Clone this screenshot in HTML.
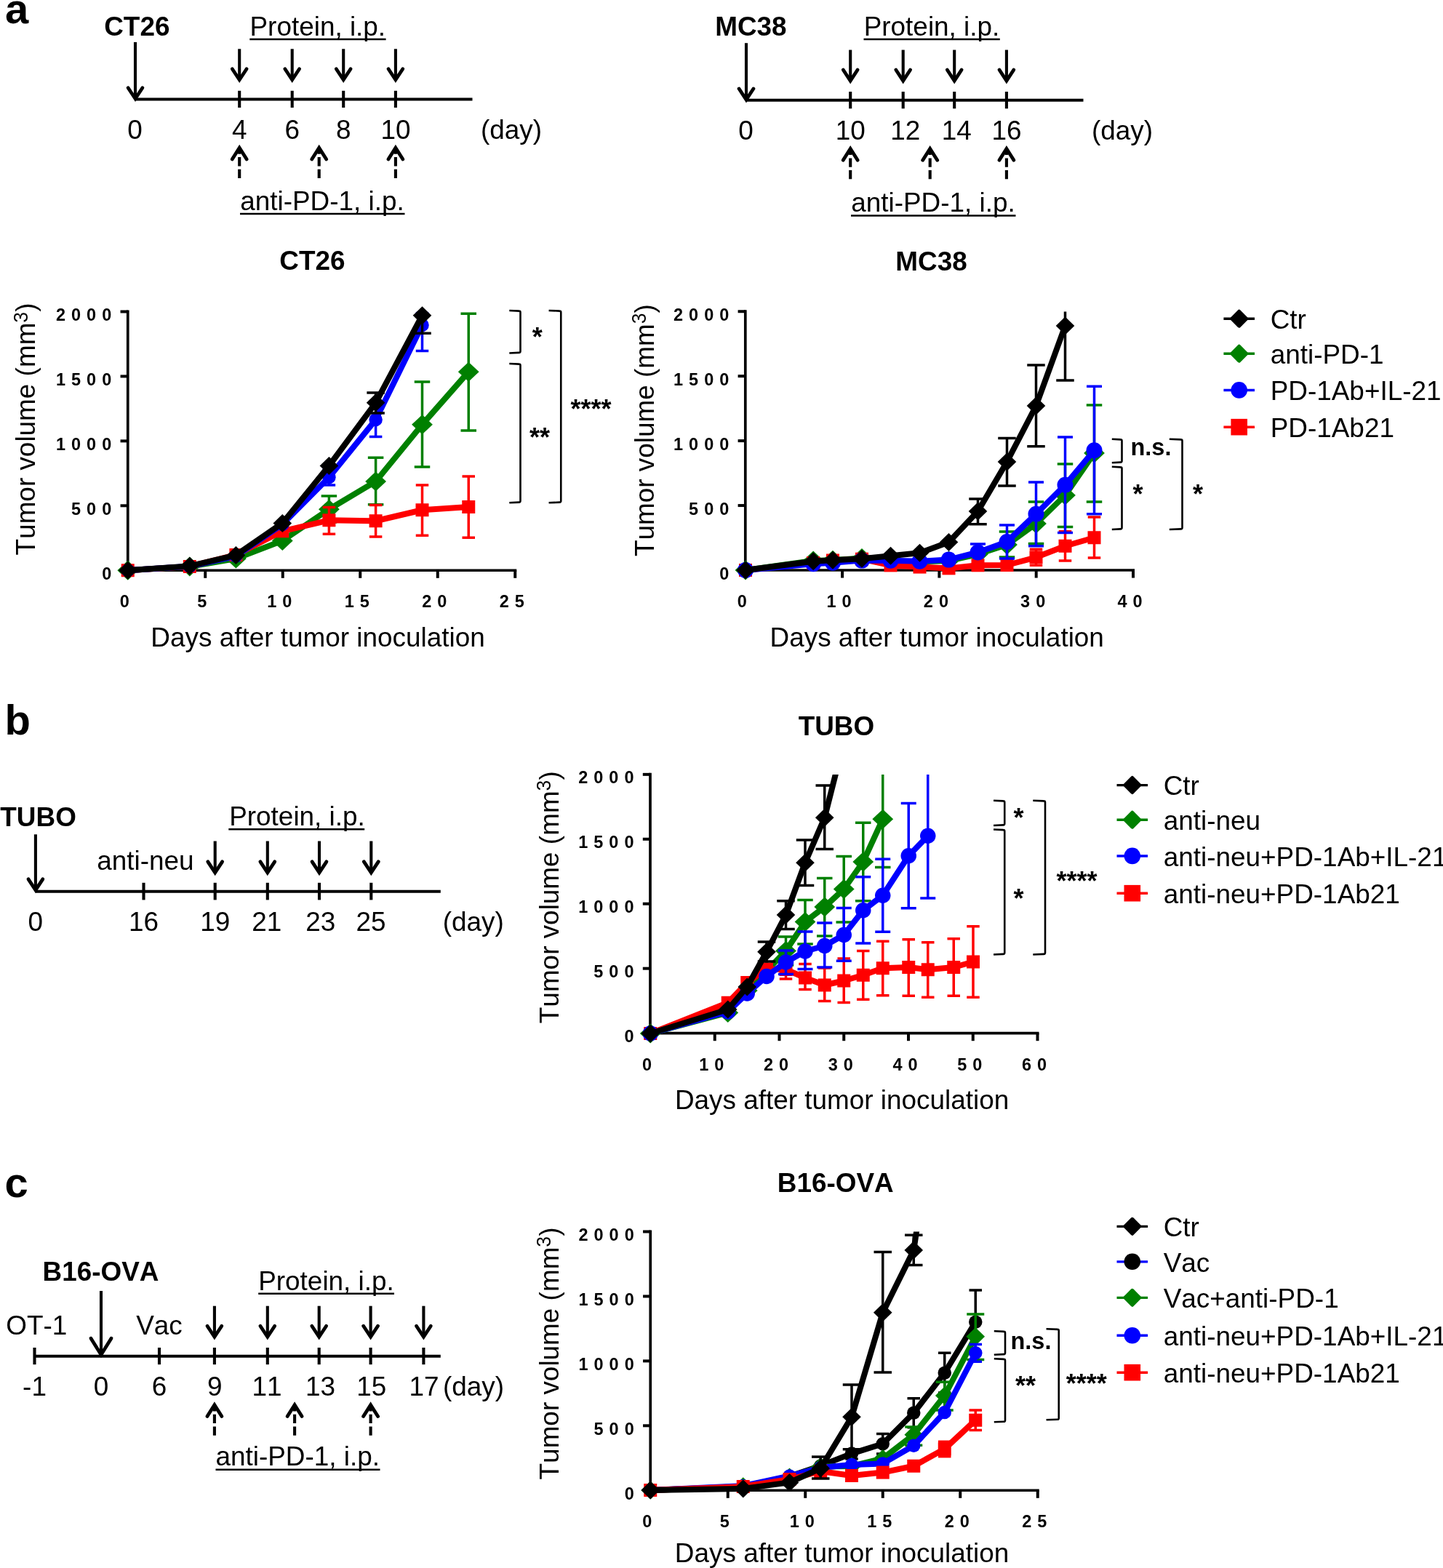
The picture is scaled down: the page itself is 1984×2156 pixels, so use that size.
<!DOCTYPE html>
<html lang="en">
<head>
<meta charset="utf-8">
<title>Figure: tumor growth curves</title>
<style>
html,body{margin:0;padding:0;background:#fff;}
body{width:1984px;height:2156px;overflow:hidden;}
svg{display:block;font-family:"Liberation Sans", sans-serif;fill:#000;font-kerning:none;}
svg text{white-space:pre;}
</style>
</head>
<body>
<svg width="1984" height="2156" viewBox="0 0 1984 2156">
<rect x="0" y="0" width="1984" height="2156" fill="#fff"/>
<defs>
<clipPath id="ca1"><rect x="150" y="428.5" width="640" height="400"/></clipPath>
<clipPath id="ca2"><rect x="1000" y="428.5" width="640" height="400"/></clipPath>
<clipPath id="cb"><rect x="870" y="1065" width="640" height="400"/></clipPath>
<clipPath id="cc"><rect x="870" y="1693.5" width="640" height="400"/></clipPath>
</defs>
<text transform="translate(7 31.5) scale(1 0.98)" font-size="58" font-weight="bold">a</text>
<text transform="translate(6.5 1009.8) scale(1 0.975)" font-size="58" font-weight="bold">b</text>
<text transform="translate(6.5 1646.2) scale(1 0.975)" font-size="58" font-weight="bold">c</text>
<text transform="translate(143.2 48.75) scale(1 1.02)" font-size="36.9" font-weight="bold">CT26</text>
<text transform="translate(343.5 48.75) scale(1 1.02)" font-size="36.9">Protein, i.p.</text>
<line x1="343.3" y1="54" x2="530.6" y2="54" stroke="#000" stroke-width="2.6"/>
<line x1="186" y1="57.9" x2="186" y2="135.74" stroke="#000" stroke-width="4.1"/>
<polyline points="176.1,120.74 186,135.74 195.9,120.74" fill="none" stroke="#000" stroke-width="4.8" stroke-linejoin="miter" stroke-linecap="round"/>
<line x1="186" y1="136.5" x2="649.5" y2="136.5" stroke="#000" stroke-width="4.1"/>
<line x1="329.2" y1="124.8" x2="329.2" y2="148" stroke="#000" stroke-width="4.1"/>
<line x1="329.2" y1="67.3" x2="329.2" y2="109.74" stroke="#000" stroke-width="4.1"/>
<polyline points="319.3,94.74 329.2,109.74 339.1,94.74" fill="none" stroke="#000" stroke-width="4.8" stroke-linejoin="miter" stroke-linecap="round"/>
<line x1="401.7" y1="124.8" x2="401.7" y2="148" stroke="#000" stroke-width="4.1"/>
<line x1="401.7" y1="67.3" x2="401.7" y2="109.74" stroke="#000" stroke-width="4.1"/>
<polyline points="391.8,94.74 401.7,109.74 411.6,94.74" fill="none" stroke="#000" stroke-width="4.8" stroke-linejoin="miter" stroke-linecap="round"/>
<line x1="472.2" y1="124.8" x2="472.2" y2="148" stroke="#000" stroke-width="4.1"/>
<line x1="472.2" y1="67.3" x2="472.2" y2="109.74" stroke="#000" stroke-width="4.1"/>
<polyline points="462.3,94.74 472.2,109.74 482.1,94.74" fill="none" stroke="#000" stroke-width="4.8" stroke-linejoin="miter" stroke-linecap="round"/>
<line x1="543.9" y1="124.8" x2="543.9" y2="148" stroke="#000" stroke-width="4.1"/>
<line x1="543.9" y1="67.3" x2="543.9" y2="109.74" stroke="#000" stroke-width="4.1"/>
<polyline points="534,94.74 543.9,109.74 553.8,94.74" fill="none" stroke="#000" stroke-width="4.8" stroke-linejoin="miter" stroke-linecap="round"/>
<text transform="translate(185.5 190.7) scale(1 1.02)" font-size="36.9" text-anchor="middle">0</text>
<text transform="translate(329.2 190.7) scale(1 1.02)" font-size="36.9" text-anchor="middle">4</text>
<text transform="translate(401.7 190.7) scale(1 1.02)" font-size="36.9" text-anchor="middle">6</text>
<text transform="translate(472.2 190.7) scale(1 1.02)" font-size="36.9" text-anchor="middle">8</text>
<text transform="translate(543.9 190.7) scale(1 1.02)" font-size="36.9" text-anchor="middle">10</text>
<text transform="translate(661 190.7) scale(1 1.02)" font-size="36.9">(day)</text>
<line x1="329.2" y1="245" x2="329.2" y2="203.19" stroke="#000" stroke-width="4.1" stroke-dasharray="12.3 4.3"/>
<polyline points="319.2,218.99 329.2,203.19 339.2,218.99" fill="none" stroke="#000" stroke-width="4.8" stroke-linejoin="miter" stroke-linecap="round"/>
<line x1="438.7" y1="245" x2="438.7" y2="203.19" stroke="#000" stroke-width="4.1" stroke-dasharray="12.3 4.3"/>
<polyline points="428.7,218.99 438.7,203.19 448.7,218.99" fill="none" stroke="#000" stroke-width="4.8" stroke-linejoin="miter" stroke-linecap="round"/>
<line x1="543.9" y1="245" x2="543.9" y2="203.19" stroke="#000" stroke-width="4.1" stroke-dasharray="12.3 4.3"/>
<polyline points="533.9,218.99 543.9,203.19 553.9,218.99" fill="none" stroke="#000" stroke-width="4.8" stroke-linejoin="miter" stroke-linecap="round"/>
<text transform="translate(330.2 288.7) scale(1 1.02)" font-size="36.9">anti-PD-1, i.p.</text>
<line x1="330" y1="294" x2="556.5" y2="294" stroke="#000" stroke-width="2.6"/>
<text transform="translate(983.2 48.75) scale(1 1.02)" font-size="36.9" font-weight="bold">MC38</text>
<text transform="translate(1187.7 48.75) scale(1 1.02)" font-size="36.9">Protein, i.p.</text>
<line x1="1187.5" y1="54" x2="1374.8" y2="54" stroke="#000" stroke-width="2.6"/>
<line x1="1026" y1="59.2" x2="1026" y2="137.04" stroke="#000" stroke-width="4.1"/>
<polyline points="1016.1,122.04 1026,137.04 1035.9,122.04" fill="none" stroke="#000" stroke-width="4.8" stroke-linejoin="miter" stroke-linecap="round"/>
<line x1="1026" y1="137.8" x2="1489.5" y2="137.8" stroke="#000" stroke-width="4.1"/>
<line x1="1169.2" y1="126.1" x2="1169.2" y2="149.3" stroke="#000" stroke-width="4.1"/>
<line x1="1169.2" y1="68.6" x2="1169.2" y2="111.04" stroke="#000" stroke-width="4.1"/>
<polyline points="1159.3,96.04 1169.2,111.04 1179.1,96.04" fill="none" stroke="#000" stroke-width="4.8" stroke-linejoin="miter" stroke-linecap="round"/>
<line x1="1241.7" y1="126.1" x2="1241.7" y2="149.3" stroke="#000" stroke-width="4.1"/>
<line x1="1241.7" y1="68.6" x2="1241.7" y2="111.04" stroke="#000" stroke-width="4.1"/>
<polyline points="1231.8,96.04 1241.7,111.04 1251.6,96.04" fill="none" stroke="#000" stroke-width="4.8" stroke-linejoin="miter" stroke-linecap="round"/>
<line x1="1312.2" y1="126.1" x2="1312.2" y2="149.3" stroke="#000" stroke-width="4.1"/>
<line x1="1312.2" y1="68.6" x2="1312.2" y2="111.04" stroke="#000" stroke-width="4.1"/>
<polyline points="1302.3,96.04 1312.2,111.04 1322.1,96.04" fill="none" stroke="#000" stroke-width="4.8" stroke-linejoin="miter" stroke-linecap="round"/>
<line x1="1383.9" y1="126.1" x2="1383.9" y2="149.3" stroke="#000" stroke-width="4.1"/>
<line x1="1383.9" y1="68.6" x2="1383.9" y2="111.04" stroke="#000" stroke-width="4.1"/>
<polyline points="1374,96.04 1383.9,111.04 1393.8,96.04" fill="none" stroke="#000" stroke-width="4.8" stroke-linejoin="miter" stroke-linecap="round"/>
<text transform="translate(1025.5 191.5) scale(1 1.02)" font-size="36.9" text-anchor="middle">0</text>
<text transform="translate(1169.2 191.5) scale(1 1.02)" font-size="36.9" text-anchor="middle">10</text>
<text transform="translate(1244.7 191.5) scale(1 1.02)" font-size="36.9" text-anchor="middle">12</text>
<text transform="translate(1315.2 191.5) scale(1 1.02)" font-size="36.9" text-anchor="middle">14</text>
<text transform="translate(1383.9 191.5) scale(1 1.02)" font-size="36.9" text-anchor="middle">16</text>
<text transform="translate(1501 191.5) scale(1 1.02)" font-size="36.9">(day)</text>
<line x1="1169.2" y1="246.3" x2="1169.2" y2="204.49" stroke="#000" stroke-width="4.1" stroke-dasharray="12.3 4.3"/>
<polyline points="1159.2,220.29 1169.2,204.49 1179.2,220.29" fill="none" stroke="#000" stroke-width="4.8" stroke-linejoin="miter" stroke-linecap="round"/>
<line x1="1278.7" y1="246.3" x2="1278.7" y2="204.49" stroke="#000" stroke-width="4.1" stroke-dasharray="12.3 4.3"/>
<polyline points="1268.7,220.29 1278.7,204.49 1288.7,220.29" fill="none" stroke="#000" stroke-width="4.8" stroke-linejoin="miter" stroke-linecap="round"/>
<line x1="1383.9" y1="246.3" x2="1383.9" y2="204.49" stroke="#000" stroke-width="4.1" stroke-dasharray="12.3 4.3"/>
<polyline points="1373.9,220.29 1383.9,204.49 1393.9,220.29" fill="none" stroke="#000" stroke-width="4.8" stroke-linejoin="miter" stroke-linecap="round"/>
<text transform="translate(1170.2 290.7) scale(1 1.02)" font-size="36.9">anti-PD-1, i.p.</text>
<line x1="1170" y1="296.5" x2="1396.5" y2="296.5" stroke="#000" stroke-width="2.6"/>
<text transform="translate(0.3 1136.2) scale(1 1.02)" font-size="36.9" font-weight="bold">TUBO</text>
<line x1="48.9" y1="1147.3" x2="48.9" y2="1223.84" stroke="#000" stroke-width="4.1"/>
<polyline points="39,1208.84 48.9,1223.84 58.8,1208.84" fill="none" stroke="#000" stroke-width="4.8" stroke-linejoin="miter" stroke-linecap="round"/>
<line x1="48.9" y1="1225.7" x2="605.8" y2="1225.7" stroke="#000" stroke-width="4.1"/>
<line x1="197.5" y1="1213.8" x2="197.5" y2="1237.4" stroke="#000" stroke-width="4.1"/>
<line x1="295.7" y1="1213.8" x2="295.7" y2="1237.4" stroke="#000" stroke-width="4.1"/>
<line x1="367.8" y1="1213.8" x2="367.8" y2="1237.4" stroke="#000" stroke-width="4.1"/>
<line x1="439" y1="1213.8" x2="439" y2="1237.4" stroke="#000" stroke-width="4.1"/>
<line x1="510.3" y1="1213.8" x2="510.3" y2="1237.4" stroke="#000" stroke-width="4.1"/>
<line x1="295.7" y1="1156.5" x2="295.7" y2="1199.84" stroke="#000" stroke-width="4.1"/>
<polyline points="285.8,1184.84 295.7,1199.84 305.6,1184.84" fill="none" stroke="#000" stroke-width="4.8" stroke-linejoin="miter" stroke-linecap="round"/>
<line x1="367.8" y1="1156.5" x2="367.8" y2="1199.84" stroke="#000" stroke-width="4.1"/>
<polyline points="357.9,1184.84 367.8,1199.84 377.7,1184.84" fill="none" stroke="#000" stroke-width="4.8" stroke-linejoin="miter" stroke-linecap="round"/>
<line x1="439" y1="1156.5" x2="439" y2="1199.84" stroke="#000" stroke-width="4.1"/>
<polyline points="429.1,1184.84 439,1199.84 448.9,1184.84" fill="none" stroke="#000" stroke-width="4.8" stroke-linejoin="miter" stroke-linecap="round"/>
<line x1="510.3" y1="1156.5" x2="510.3" y2="1199.84" stroke="#000" stroke-width="4.1"/>
<polyline points="500.4,1184.84 510.3,1199.84 520.2,1184.84" fill="none" stroke="#000" stroke-width="4.8" stroke-linejoin="miter" stroke-linecap="round"/>
<text transform="translate(133.2 1196.4) scale(1 1.02)" font-size="36.9">anti-neu</text>
<text transform="translate(315.2 1134.8) scale(1 1.02)" font-size="36.9">Protein, i.p.</text>
<line x1="314.3" y1="1140.2" x2="501.2" y2="1140.2" stroke="#000" stroke-width="2.6"/>
<text transform="translate(48.7 1280.2) scale(1 1.02)" font-size="36.9" text-anchor="middle">0</text>
<text transform="translate(197.5 1280.2) scale(1 1.02)" font-size="36.9" text-anchor="middle">16</text>
<text transform="translate(295.7 1280.2) scale(1 1.02)" font-size="36.9" text-anchor="middle">19</text>
<text transform="translate(366.8 1280.2) scale(1 1.02)" font-size="36.9" text-anchor="middle">21</text>
<text transform="translate(440.7 1280.2) scale(1 1.02)" font-size="36.9" text-anchor="middle">23</text>
<text transform="translate(510 1280.2) scale(1 1.02)" font-size="36.9" text-anchor="middle">25</text>
<text transform="translate(608.7 1280.2) scale(1 1.02)" font-size="36.9">(day)</text>
<text transform="translate(58.5 1760.8) scale(1 1.02)" font-size="36.9" font-weight="bold">B16-OVA</text>
<line x1="139" y1="1775" x2="139" y2="1862.66" stroke="#000" stroke-width="4.1"/>
<polyline points="125,1840.16 139,1862.66 153,1840.16" fill="none" stroke="#000" stroke-width="4.8" stroke-linejoin="miter" stroke-linecap="round"/>
<line x1="47.5" y1="1864.7" x2="605.8" y2="1864.7" stroke="#000" stroke-width="4.1"/>
<line x1="47.5" y1="1853" x2="47.5" y2="1876.2" stroke="#000" stroke-width="4.1"/>
<line x1="219" y1="1853" x2="219" y2="1876.2" stroke="#000" stroke-width="4.1"/>
<line x1="294.9" y1="1853" x2="294.9" y2="1876.2" stroke="#000" stroke-width="4.1"/>
<line x1="367.8" y1="1853" x2="367.8" y2="1876.2" stroke="#000" stroke-width="4.1"/>
<line x1="438.7" y1="1853" x2="438.7" y2="1876.2" stroke="#000" stroke-width="4.1"/>
<line x1="509.6" y1="1853" x2="509.6" y2="1876.2" stroke="#000" stroke-width="4.1"/>
<line x1="582.4" y1="1853" x2="582.4" y2="1876.2" stroke="#000" stroke-width="4.1"/>
<line x1="294.9" y1="1795.7" x2="294.9" y2="1838.24" stroke="#000" stroke-width="4.1"/>
<polyline points="285,1823.24 294.9,1838.24 304.8,1823.24" fill="none" stroke="#000" stroke-width="4.8" stroke-linejoin="miter" stroke-linecap="round"/>
<line x1="367.8" y1="1795.7" x2="367.8" y2="1838.24" stroke="#000" stroke-width="4.1"/>
<polyline points="357.9,1823.24 367.8,1838.24 377.7,1823.24" fill="none" stroke="#000" stroke-width="4.8" stroke-linejoin="miter" stroke-linecap="round"/>
<line x1="438.7" y1="1795.7" x2="438.7" y2="1838.24" stroke="#000" stroke-width="4.1"/>
<polyline points="428.8,1823.24 438.7,1838.24 448.6,1823.24" fill="none" stroke="#000" stroke-width="4.8" stroke-linejoin="miter" stroke-linecap="round"/>
<line x1="509.6" y1="1795.7" x2="509.6" y2="1838.24" stroke="#000" stroke-width="4.1"/>
<polyline points="499.7,1823.24 509.6,1838.24 519.5,1823.24" fill="none" stroke="#000" stroke-width="4.8" stroke-linejoin="miter" stroke-linecap="round"/>
<line x1="582.4" y1="1795.7" x2="582.4" y2="1838.24" stroke="#000" stroke-width="4.1"/>
<polyline points="572.5,1823.24 582.4,1838.24 592.3,1823.24" fill="none" stroke="#000" stroke-width="4.8" stroke-linejoin="miter" stroke-linecap="round"/>
<text transform="translate(8.2 1834.5) scale(1 1.02)" font-size="36.9">OT-1</text>
<text transform="translate(187.2 1834.5) scale(1 1.02)" font-size="36.9">Vac</text>
<text transform="translate(355.2 1773.9) scale(1 1.02)" font-size="36.9">Protein, i.p.</text>
<line x1="355.2" y1="1778.8" x2="542" y2="1778.8" stroke="#000" stroke-width="2.6"/>
<text transform="translate(47.5 1918.6) scale(1 1.02)" font-size="36.9" text-anchor="middle">-1</text>
<text transform="translate(139 1918.6) scale(1 1.02)" font-size="36.9" text-anchor="middle">0</text>
<text transform="translate(219 1918.6) scale(1 1.02)" font-size="36.9" text-anchor="middle">6</text>
<text transform="translate(295.2 1918.6) scale(1 1.02)" font-size="36.9" text-anchor="middle">9</text>
<text transform="translate(367 1918.6) scale(1 1.02)" font-size="36.9" text-anchor="middle">11</text>
<text transform="translate(440.5 1918.6) scale(1 1.02)" font-size="36.9" text-anchor="middle">13</text>
<text transform="translate(510.8 1918.6) scale(1 1.02)" font-size="36.9" text-anchor="middle">15</text>
<text transform="translate(582.9 1918.6) scale(1 1.02)" font-size="36.9" text-anchor="middle">17</text>
<text transform="translate(609 1918.6) scale(1 1.02)" font-size="36.9">(day)</text>
<line x1="294.9" y1="1973.7" x2="294.9" y2="1931.79" stroke="#000" stroke-width="4.1" stroke-dasharray="12.3 4.3"/>
<polyline points="284.9,1947.59 294.9,1931.79 304.9,1947.59" fill="none" stroke="#000" stroke-width="4.8" stroke-linejoin="miter" stroke-linecap="round"/>
<line x1="405.1" y1="1973.7" x2="405.1" y2="1931.79" stroke="#000" stroke-width="4.1" stroke-dasharray="12.3 4.3"/>
<polyline points="395.1,1947.59 405.1,1931.79 415.1,1947.59" fill="none" stroke="#000" stroke-width="4.8" stroke-linejoin="miter" stroke-linecap="round"/>
<line x1="509.6" y1="1973.7" x2="509.6" y2="1931.79" stroke="#000" stroke-width="4.1" stroke-dasharray="12.3 4.3"/>
<polyline points="499.6,1947.59 509.6,1931.79 519.6,1947.59" fill="none" stroke="#000" stroke-width="4.8" stroke-linejoin="miter" stroke-linecap="round"/>
<text transform="translate(296.4 2015) scale(1 1.02)" font-size="36.9">anti-PD-1, i.p.</text>
<line x1="296.5" y1="2020.7" x2="522.5" y2="2020.7" stroke="#000" stroke-width="2.6"/>
<line x1="175.75" y1="426.5" x2="175.75" y2="786.1" stroke="#000" stroke-width="3.7"/>
<line x1="173.9" y1="784.25" x2="710.25" y2="784.25" stroke="#000" stroke-width="3.7"/>
<line x1="165.55" y1="428.5" x2="175.75" y2="428.5" stroke="#000" stroke-width="4"/>
<line x1="165.55" y1="517.44" x2="175.75" y2="517.44" stroke="#000" stroke-width="4"/>
<line x1="165.55" y1="606.38" x2="175.75" y2="606.38" stroke="#000" stroke-width="4"/>
<line x1="165.55" y1="695.31" x2="175.75" y2="695.31" stroke="#000" stroke-width="4"/>
<line x1="165.55" y1="784.25" x2="175.75" y2="784.25" stroke="#000" stroke-width="4"/>
<line x1="175.75" y1="784.25" x2="175.75" y2="794.85" stroke="#000" stroke-width="4"/>
<line x1="282.25" y1="784.25" x2="282.25" y2="794.85" stroke="#000" stroke-width="4"/>
<line x1="388.75" y1="784.25" x2="388.75" y2="794.85" stroke="#000" stroke-width="4"/>
<line x1="495.25" y1="784.25" x2="495.25" y2="794.85" stroke="#000" stroke-width="4"/>
<line x1="601.75" y1="784.25" x2="601.75" y2="794.85" stroke="#000" stroke-width="4"/>
<line x1="708.25" y1="784.25" x2="708.25" y2="794.85" stroke="#000" stroke-width="4"/>
<text transform="translate(161.35 441.1) scale(1 1.03)" font-size="23.5" font-weight="bold" text-anchor="end" letter-spacing="8.05">2000</text>
<text transform="translate(161.35 530.04) scale(1 1.03)" font-size="23.5" font-weight="bold" text-anchor="end" letter-spacing="8.05">1500</text>
<text transform="translate(161.35 618.98) scale(1 1.03)" font-size="23.5" font-weight="bold" text-anchor="end" letter-spacing="8.05">1000</text>
<text transform="translate(161.35 707.91) scale(1 1.03)" font-size="23.5" font-weight="bold" text-anchor="end" letter-spacing="8.05">500</text>
<text transform="translate(161.35 796.85) scale(1 1.03)" font-size="23.5" font-weight="bold" text-anchor="end" letter-spacing="8.05">0</text>
<text transform="translate(175.25 835.45) scale(1 1.03)" font-size="23.5" font-weight="bold" text-anchor="middle" letter-spacing="8.05">0</text>
<text transform="translate(281.75 835.45) scale(1 1.03)" font-size="23.5" font-weight="bold" text-anchor="middle" letter-spacing="8.05">5</text>
<text transform="translate(388.25 835.45) scale(1 1.03)" font-size="23.5" font-weight="bold" text-anchor="middle" letter-spacing="8.05">10</text>
<text transform="translate(494.75 835.45) scale(1 1.03)" font-size="23.5" font-weight="bold" text-anchor="middle" letter-spacing="8.05">15</text>
<text transform="translate(601.25 835.45) scale(1 1.03)" font-size="23.5" font-weight="bold" text-anchor="middle" letter-spacing="8.05">20</text>
<text transform="translate(707.75 835.45) scale(1 1.03)" font-size="23.5" font-weight="bold" text-anchor="middle" letter-spacing="8.05">25</text>
<text transform="translate(429.4 371.4) scale(1 1.02)" font-size="36.9" font-weight="bold" text-anchor="middle">CT26</text>
<text transform="translate(437 889.4) scale(1 1.02)" font-size="36.9" text-anchor="middle">Days after tumor inoculation</text>
<text transform="translate(48.05 590) rotate(-90) scale(1 1.025)" font-size="36.9" text-anchor="middle">Tumor volume (mm<tspan font-size="26.57" dy="-10">3</tspan><tspan dy="10">)</tspan></text>
<g clip-path="url(#ca1)">
<line x1="452.4" y1="700.3" x2="452.4" y2="682" stroke="#008000" stroke-width="3.5"/>
<line x1="441.65" y1="682" x2="463.15" y2="682" stroke="#008000" stroke-width="3.5"/>
<line x1="452.4" y1="700.3" x2="452.4" y2="718" stroke="#008000" stroke-width="3.5"/>
<line x1="441.65" y1="718" x2="463.15" y2="718" stroke="#008000" stroke-width="3.5"/>
<line x1="516.6" y1="662" x2="516.6" y2="629.25" stroke="#008000" stroke-width="3.5"/>
<line x1="505.85" y1="629.25" x2="527.35" y2="629.25" stroke="#008000" stroke-width="3.5"/>
<line x1="516.6" y1="662" x2="516.6" y2="693.75" stroke="#008000" stroke-width="3.5"/>
<line x1="505.85" y1="693.75" x2="527.35" y2="693.75" stroke="#008000" stroke-width="3.5"/>
<line x1="580.5" y1="583.75" x2="580.5" y2="525" stroke="#008000" stroke-width="3.5"/>
<line x1="569.75" y1="525" x2="591.25" y2="525" stroke="#008000" stroke-width="3.5"/>
<line x1="580.5" y1="583.75" x2="580.5" y2="642" stroke="#008000" stroke-width="3.5"/>
<line x1="569.75" y1="642" x2="591.25" y2="642" stroke="#008000" stroke-width="3.5"/>
<line x1="644.25" y1="511.25" x2="644.25" y2="431.25" stroke="#008000" stroke-width="3.5"/>
<line x1="633.5" y1="431.25" x2="655" y2="431.25" stroke="#008000" stroke-width="3.5"/>
<line x1="644.25" y1="511.25" x2="644.25" y2="592" stroke="#008000" stroke-width="3.5"/>
<line x1="633.5" y1="592" x2="655" y2="592" stroke="#008000" stroke-width="3.5"/>
<polyline points="175.75,784.25 260.8,779 324.4,768 388.3,743.5 452.4,700.3 516.6,662 580.5,583.75 644.25,511.25" fill="none" stroke="#008000" stroke-width="8" stroke-linejoin="round"/>
</g>
<path d="M161.35 784.25L175.75 770.85L190.15 784.25L175.75 797.65Z" fill="#008000"/>
<path d="M246.4 779L260.8 765.6L275.2 779L260.8 792.4Z" fill="#008000"/>
<path d="M310 768L324.4 754.6L338.8 768L324.4 781.4Z" fill="#008000"/>
<path d="M373.9 743.5L388.3 730.1L402.7 743.5L388.3 756.9Z" fill="#008000"/>
<path d="M438 700.3L452.4 686.9L466.8 700.3L452.4 713.7Z" fill="#008000"/>
<path d="M502.2 662L516.6 648.6L531 662L516.6 675.4Z" fill="#008000"/>
<path d="M566.1 583.75L580.5 570.35L594.9 583.75L580.5 597.15Z" fill="#008000"/>
<path d="M629.85 511.25L644.25 497.85L658.65 511.25L644.25 524.65Z" fill="#008000"/>
<g clip-path="url(#ca1)">
<line x1="452.4" y1="715.3" x2="452.4" y2="697.5" stroke="#ff0000" stroke-width="3.5"/>
<line x1="443.65" y1="697.5" x2="461.15" y2="697.5" stroke="#ff0000" stroke-width="3.5"/>
<line x1="452.4" y1="715.3" x2="452.4" y2="734.3" stroke="#ff0000" stroke-width="3.5"/>
<line x1="443.65" y1="734.3" x2="461.15" y2="734.3" stroke="#ff0000" stroke-width="3.5"/>
<line x1="516.6" y1="716.25" x2="516.6" y2="694.5" stroke="#ff0000" stroke-width="3.5"/>
<line x1="507.85" y1="694.5" x2="525.35" y2="694.5" stroke="#ff0000" stroke-width="3.5"/>
<line x1="516.6" y1="716.25" x2="516.6" y2="738" stroke="#ff0000" stroke-width="3.5"/>
<line x1="507.85" y1="738" x2="525.35" y2="738" stroke="#ff0000" stroke-width="3.5"/>
<line x1="580.5" y1="701.25" x2="580.5" y2="667" stroke="#ff0000" stroke-width="3.5"/>
<line x1="571.75" y1="667" x2="589.25" y2="667" stroke="#ff0000" stroke-width="3.5"/>
<line x1="580.5" y1="701.25" x2="580.5" y2="736.25" stroke="#ff0000" stroke-width="3.5"/>
<line x1="571.75" y1="736.25" x2="589.25" y2="736.25" stroke="#ff0000" stroke-width="3.5"/>
<line x1="644.25" y1="697" x2="644.25" y2="655" stroke="#ff0000" stroke-width="3.5"/>
<line x1="635.5" y1="655" x2="653" y2="655" stroke="#ff0000" stroke-width="3.5"/>
<line x1="644.25" y1="697" x2="644.25" y2="739.25" stroke="#ff0000" stroke-width="3.5"/>
<line x1="635.5" y1="739.25" x2="653" y2="739.25" stroke="#ff0000" stroke-width="3.5"/>
<polyline points="175.75,784.25 260.8,779 324.4,763 388.3,730.3 452.4,715.3 516.6,716.25 580.5,701.25 644.25,697" fill="none" stroke="#ff0000" stroke-width="8" stroke-linejoin="round"/>
</g>
<rect x="166.75" y="775.25" width="18" height="18" fill="#ff0000"/>
<rect x="251.8" y="770" width="18" height="18" fill="#ff0000"/>
<rect x="315.4" y="754" width="18" height="18" fill="#ff0000"/>
<rect x="379.3" y="721.3" width="18" height="18" fill="#ff0000"/>
<rect x="443.4" y="706.3" width="18" height="18" fill="#ff0000"/>
<rect x="507.6" y="707.25" width="18" height="18" fill="#ff0000"/>
<rect x="571.5" y="692.25" width="18" height="18" fill="#ff0000"/>
<rect x="635.25" y="688" width="18" height="18" fill="#ff0000"/>
<g clip-path="url(#ca1)">
<line x1="452.4" y1="656.3" x2="452.4" y2="645" stroke="#0000ff" stroke-width="3.5"/>
<line x1="443.65" y1="645" x2="461.15" y2="645" stroke="#0000ff" stroke-width="3.5"/>
<line x1="452.4" y1="656.3" x2="452.4" y2="667" stroke="#0000ff" stroke-width="3.5"/>
<line x1="443.65" y1="667" x2="461.15" y2="667" stroke="#0000ff" stroke-width="3.5"/>
<line x1="516.6" y1="577" x2="516.6" y2="552" stroke="#0000ff" stroke-width="3.5"/>
<line x1="507.85" y1="552" x2="525.35" y2="552" stroke="#0000ff" stroke-width="3.5"/>
<line x1="516.6" y1="577" x2="516.6" y2="600.5" stroke="#0000ff" stroke-width="3.5"/>
<line x1="507.85" y1="600.5" x2="525.35" y2="600.5" stroke="#0000ff" stroke-width="3.5"/>
<line x1="580.5" y1="447" x2="580.5" y2="430.5" stroke="#0000ff" stroke-width="3.5"/>
<line x1="571.75" y1="430.5" x2="589.25" y2="430.5" stroke="#0000ff" stroke-width="3.5"/>
<line x1="580.5" y1="447" x2="580.5" y2="482.5" stroke="#0000ff" stroke-width="3.5"/>
<line x1="571.75" y1="482.5" x2="589.25" y2="482.5" stroke="#0000ff" stroke-width="3.5"/>
<polyline points="175.75,784.25 260.8,778.8 324.4,764.5 388.3,721 452.4,656.3 516.6,577 580.5,447" fill="none" stroke="#0000ff" stroke-width="8" stroke-linejoin="round"/>
</g>
<circle cx="175.75" cy="784.25" r="9.25" fill="#0000ff"/>
<circle cx="260.8" cy="778.8" r="9.25" fill="#0000ff"/>
<circle cx="324.4" cy="764.5" r="9.25" fill="#0000ff"/>
<circle cx="388.3" cy="721" r="9.25" fill="#0000ff"/>
<circle cx="452.4" cy="656.3" r="9.25" fill="#0000ff"/>
<circle cx="516.6" cy="577" r="9.25" fill="#0000ff"/>
<circle cx="580.5" cy="447" r="9.25" fill="#0000ff"/>
<g clip-path="url(#ca1)">
<line x1="516.6" y1="553.75" x2="516.6" y2="540" stroke="#000" stroke-width="3.5"/>
<line x1="504.35" y1="540" x2="528.85" y2="540" stroke="#000" stroke-width="3.5"/>
<line x1="516.6" y1="553.75" x2="516.6" y2="568" stroke="#000" stroke-width="3.5"/>
<line x1="504.35" y1="568" x2="528.85" y2="568" stroke="#000" stroke-width="3.5"/>
<line x1="580.5" y1="433.75" x2="580.5" y2="409.5" stroke="#000" stroke-width="3.5"/>
<line x1="568.25" y1="409.5" x2="592.75" y2="409.5" stroke="#000" stroke-width="3.5"/>
<line x1="580.5" y1="433.75" x2="580.5" y2="458.25" stroke="#000" stroke-width="3.5"/>
<line x1="568.25" y1="458.25" x2="592.75" y2="458.25" stroke="#000" stroke-width="3.5"/>
<polyline points="175.75,784.25 260.8,778.3 324.4,763.4 388.3,719.4 452.4,640.5 516.6,553.75 580.5,433.75" fill="none" stroke="#000" stroke-width="8" stroke-linejoin="round"/>
</g>
<path d="M162.95 784.25L175.75 771.75L188.55 784.25L175.75 796.75Z" fill="#000"/>
<path d="M248 778.3L260.8 765.8L273.6 778.3L260.8 790.8Z" fill="#000"/>
<path d="M311.6 763.4L324.4 750.9L337.2 763.4L324.4 775.9Z" fill="#000"/>
<path d="M375.5 719.4L388.3 706.9L401.1 719.4L388.3 731.9Z" fill="#000"/>
<path d="M439.6 640.5L452.4 628L465.2 640.5L452.4 653Z" fill="#000"/>
<path d="M503.8 553.75L516.6 541.25L529.4 553.75L516.6 566.25Z" fill="#000"/>
<path d="M567.7 433.75L580.5 421.25L593.3 433.75L580.5 446.25Z" fill="#000"/>
<path d="M700.3 427L713.7 427.6Q715.5 427.6 715.5 429.4L715.5 483.1Q715.5 484.9 713.7 484.9L700.3 485.5" fill="none" stroke="#000" stroke-width="2.6"/>
<path d="M700.3 500L713.7 500.6Q715.5 500.6 715.5 502.4L715.5 688.85Q715.5 690.65 713.7 690.65L700.3 691.25" fill="none" stroke="#000" stroke-width="2.6"/>
<path d="M754.55 427L769.45 427.6Q771.25 427.6 771.25 429.4L771.25 688.85Q771.25 690.65 769.45 690.65L754.55 691.25" fill="none" stroke="#000" stroke-width="2.6"/>
<text transform="translate(738.75 476) scale(1 1.02)" font-size="36" font-weight="bold" text-anchor="middle">*</text>
<text transform="translate(742 614.4) scale(1 1.02)" font-size="36" font-weight="bold" text-anchor="middle">**</text>
<text transform="translate(812.5 574.5) scale(1 1.02)" font-size="36" font-weight="bold" text-anchor="middle">****</text>
<line x1="1024.8" y1="426.25" x2="1024.8" y2="785.85" stroke="#000" stroke-width="3.7"/>
<line x1="1022.95" y1="784" x2="1560" y2="784" stroke="#000" stroke-width="3.7"/>
<line x1="1014.6" y1="428.25" x2="1024.8" y2="428.25" stroke="#000" stroke-width="4"/>
<line x1="1014.6" y1="517.19" x2="1024.8" y2="517.19" stroke="#000" stroke-width="4"/>
<line x1="1014.6" y1="606.12" x2="1024.8" y2="606.12" stroke="#000" stroke-width="4"/>
<line x1="1014.6" y1="695.06" x2="1024.8" y2="695.06" stroke="#000" stroke-width="4"/>
<line x1="1014.6" y1="784" x2="1024.8" y2="784" stroke="#000" stroke-width="4"/>
<line x1="1024.8" y1="784" x2="1024.8" y2="794.6" stroke="#000" stroke-width="4"/>
<line x1="1158.1" y1="784" x2="1158.1" y2="794.6" stroke="#000" stroke-width="4"/>
<line x1="1291.4" y1="784" x2="1291.4" y2="794.6" stroke="#000" stroke-width="4"/>
<line x1="1424.7" y1="784" x2="1424.7" y2="794.6" stroke="#000" stroke-width="4"/>
<line x1="1558" y1="784" x2="1558" y2="794.6" stroke="#000" stroke-width="4"/>
<text transform="translate(1010.4 440.85) scale(1 1.03)" font-size="23.5" font-weight="bold" text-anchor="end" letter-spacing="8.05">2000</text>
<text transform="translate(1010.4 529.79) scale(1 1.03)" font-size="23.5" font-weight="bold" text-anchor="end" letter-spacing="8.05">1500</text>
<text transform="translate(1010.4 618.73) scale(1 1.03)" font-size="23.5" font-weight="bold" text-anchor="end" letter-spacing="8.05">1000</text>
<text transform="translate(1010.4 707.66) scale(1 1.03)" font-size="23.5" font-weight="bold" text-anchor="end" letter-spacing="8.05">500</text>
<text transform="translate(1010.4 796.6) scale(1 1.03)" font-size="23.5" font-weight="bold" text-anchor="end" letter-spacing="8.05">0</text>
<text transform="translate(1024.3 835.2) scale(1 1.03)" font-size="23.5" font-weight="bold" text-anchor="middle" letter-spacing="8.05">0</text>
<text transform="translate(1157.6 835.2) scale(1 1.03)" font-size="23.5" font-weight="bold" text-anchor="middle" letter-spacing="8.05">10</text>
<text transform="translate(1290.9 835.2) scale(1 1.03)" font-size="23.5" font-weight="bold" text-anchor="middle" letter-spacing="8.05">20</text>
<text transform="translate(1424.2 835.2) scale(1 1.03)" font-size="23.5" font-weight="bold" text-anchor="middle" letter-spacing="8.05">30</text>
<text transform="translate(1557.5 835.2) scale(1 1.03)" font-size="23.5" font-weight="bold" text-anchor="middle" letter-spacing="8.05">40</text>
<text transform="translate(1280.5 371.6) scale(1 1.02)" font-size="36.9" font-weight="bold" text-anchor="middle">MC38</text>
<text transform="translate(1288.2 889.4) scale(1 1.02)" font-size="36.9" text-anchor="middle">Days after tumor inoculation</text>
<text transform="translate(898.55 591.6) rotate(-90) scale(1 1.025)" font-size="36.9" text-anchor="middle">Tumor volume (mm<tspan font-size="26.57" dy="-10">3</tspan><tspan dy="10">)</tspan></text>
<g clip-path="url(#ca2)">
<line x1="1384.5" y1="749" x2="1384.5" y2="731" stroke="#008000" stroke-width="3.5"/>
<line x1="1373.75" y1="731" x2="1395.25" y2="731" stroke="#008000" stroke-width="3.5"/>
<line x1="1384.5" y1="749" x2="1384.5" y2="766" stroke="#008000" stroke-width="3.5"/>
<line x1="1373.75" y1="766" x2="1395.25" y2="766" stroke="#008000" stroke-width="3.5"/>
<line x1="1424.5" y1="720" x2="1424.5" y2="690" stroke="#008000" stroke-width="3.5"/>
<line x1="1413.75" y1="690" x2="1435.25" y2="690" stroke="#008000" stroke-width="3.5"/>
<line x1="1424.5" y1="720" x2="1424.5" y2="747.5" stroke="#008000" stroke-width="3.5"/>
<line x1="1413.75" y1="747.5" x2="1435.25" y2="747.5" stroke="#008000" stroke-width="3.5"/>
<line x1="1464.5" y1="681" x2="1464.5" y2="638" stroke="#008000" stroke-width="3.5"/>
<line x1="1453.75" y1="638" x2="1475.25" y2="638" stroke="#008000" stroke-width="3.5"/>
<line x1="1464.5" y1="681" x2="1464.5" y2="724.5" stroke="#008000" stroke-width="3.5"/>
<line x1="1453.75" y1="724.5" x2="1475.25" y2="724.5" stroke="#008000" stroke-width="3.5"/>
<line x1="1504.5" y1="623" x2="1504.5" y2="557" stroke="#008000" stroke-width="3.5"/>
<line x1="1493.75" y1="557" x2="1515.25" y2="557" stroke="#008000" stroke-width="3.5"/>
<line x1="1504.5" y1="623" x2="1504.5" y2="690" stroke="#008000" stroke-width="3.5"/>
<line x1="1493.75" y1="690" x2="1515.25" y2="690" stroke="#008000" stroke-width="3.5"/>
<polyline points="1025,784 1118.2,771 1145,770.2 1185,767.5 1224.5,772 1264.5,772.5 1304.5,771 1344.5,762 1384.5,749 1424.5,720 1464.5,681 1504.5,623" fill="none" stroke="#008000" stroke-width="8" stroke-linejoin="round"/>
</g>
<path d="M1010.6 784L1025 770.6L1039.4 784L1025 797.4Z" fill="#008000"/>
<path d="M1103.8 771L1118.2 757.6L1132.6 771L1118.2 784.4Z" fill="#008000"/>
<path d="M1130.6 770.2L1145 756.8L1159.4 770.2L1145 783.6Z" fill="#008000"/>
<path d="M1170.6 767.5L1185 754.1L1199.4 767.5L1185 780.9Z" fill="#008000"/>
<path d="M1210.1 772L1224.5 758.6L1238.9 772L1224.5 785.4Z" fill="#008000"/>
<path d="M1250.1 772.5L1264.5 759.1L1278.9 772.5L1264.5 785.9Z" fill="#008000"/>
<path d="M1290.1 771L1304.5 757.6L1318.9 771L1304.5 784.4Z" fill="#008000"/>
<path d="M1330.1 762L1344.5 748.6L1358.9 762L1344.5 775.4Z" fill="#008000"/>
<path d="M1370.1 749L1384.5 735.6L1398.9 749L1384.5 762.4Z" fill="#008000"/>
<path d="M1410.1 720L1424.5 706.6L1438.9 720L1424.5 733.4Z" fill="#008000"/>
<path d="M1450.1 681L1464.5 667.6L1478.9 681L1464.5 694.4Z" fill="#008000"/>
<path d="M1490.1 623L1504.5 609.6L1518.9 623L1504.5 636.4Z" fill="#008000"/>
<g clip-path="url(#ca2)">
<line x1="1424.5" y1="766.3" x2="1424.5" y2="755.25" stroke="#ff0000" stroke-width="3.5"/>
<line x1="1415.75" y1="755.25" x2="1433.25" y2="755.25" stroke="#ff0000" stroke-width="3.5"/>
<line x1="1424.5" y1="766.3" x2="1424.5" y2="777.3" stroke="#ff0000" stroke-width="3.5"/>
<line x1="1415.75" y1="777.3" x2="1433.25" y2="777.3" stroke="#ff0000" stroke-width="3.5"/>
<line x1="1464.5" y1="750.75" x2="1464.5" y2="730.75" stroke="#ff0000" stroke-width="3.5"/>
<line x1="1455.75" y1="730.75" x2="1473.25" y2="730.75" stroke="#ff0000" stroke-width="3.5"/>
<line x1="1464.5" y1="750.75" x2="1464.5" y2="771" stroke="#ff0000" stroke-width="3.5"/>
<line x1="1455.75" y1="771" x2="1473.25" y2="771" stroke="#ff0000" stroke-width="3.5"/>
<line x1="1504.5" y1="739.25" x2="1504.5" y2="711" stroke="#ff0000" stroke-width="3.5"/>
<line x1="1495.75" y1="711" x2="1513.25" y2="711" stroke="#ff0000" stroke-width="3.5"/>
<line x1="1504.5" y1="739.25" x2="1504.5" y2="767" stroke="#ff0000" stroke-width="3.5"/>
<line x1="1495.75" y1="767" x2="1513.25" y2="767" stroke="#ff0000" stroke-width="3.5"/>
<polyline points="1025,784 1118.2,774 1145,770.5 1185,768.7 1224.5,777.4 1264.5,779.6 1304.5,781.4 1344.5,777.3 1384.5,777 1424.5,766.3 1464.5,750.75 1504.5,739.25" fill="none" stroke="#ff0000" stroke-width="8" stroke-linejoin="round"/>
</g>
<rect x="1016" y="775" width="18" height="18" fill="#ff0000"/>
<rect x="1109.2" y="765" width="18" height="18" fill="#ff0000"/>
<rect x="1136" y="761.5" width="18" height="18" fill="#ff0000"/>
<rect x="1176" y="759.7" width="18" height="18" fill="#ff0000"/>
<rect x="1215.5" y="768.4" width="18" height="18" fill="#ff0000"/>
<rect x="1255.5" y="770.6" width="18" height="18" fill="#ff0000"/>
<rect x="1295.5" y="772.4" width="18" height="18" fill="#ff0000"/>
<rect x="1335.5" y="768.3" width="18" height="18" fill="#ff0000"/>
<rect x="1375.5" y="768" width="18" height="18" fill="#ff0000"/>
<rect x="1415.5" y="757.3" width="18" height="18" fill="#ff0000"/>
<rect x="1455.5" y="741.75" width="18" height="18" fill="#ff0000"/>
<rect x="1495.5" y="730.25" width="18" height="18" fill="#ff0000"/>
<g clip-path="url(#ca2)">
<line x1="1344.5" y1="759.5" x2="1344.5" y2="748" stroke="#0000ff" stroke-width="3.5"/>
<line x1="1334" y1="748" x2="1355" y2="748" stroke="#0000ff" stroke-width="3.5"/>
<line x1="1384.5" y1="745" x2="1384.5" y2="722" stroke="#0000ff" stroke-width="3.5"/>
<line x1="1374" y1="722" x2="1395" y2="722" stroke="#0000ff" stroke-width="3.5"/>
<line x1="1384.5" y1="745" x2="1384.5" y2="768" stroke="#0000ff" stroke-width="3.5"/>
<line x1="1374" y1="768" x2="1395" y2="768" stroke="#0000ff" stroke-width="3.5"/>
<line x1="1424.5" y1="706.75" x2="1424.5" y2="663" stroke="#0000ff" stroke-width="3.5"/>
<line x1="1414" y1="663" x2="1435" y2="663" stroke="#0000ff" stroke-width="3.5"/>
<line x1="1424.5" y1="706.75" x2="1424.5" y2="750.75" stroke="#0000ff" stroke-width="3.5"/>
<line x1="1414" y1="750.75" x2="1435" y2="750.75" stroke="#0000ff" stroke-width="3.5"/>
<line x1="1464.5" y1="666.75" x2="1464.5" y2="601" stroke="#0000ff" stroke-width="3.5"/>
<line x1="1454" y1="601" x2="1475" y2="601" stroke="#0000ff" stroke-width="3.5"/>
<line x1="1464.5" y1="666.75" x2="1464.5" y2="732.5" stroke="#0000ff" stroke-width="3.5"/>
<line x1="1454" y1="732.5" x2="1475" y2="732.5" stroke="#0000ff" stroke-width="3.5"/>
<line x1="1504.5" y1="619.25" x2="1504.5" y2="531.25" stroke="#0000ff" stroke-width="3.5"/>
<line x1="1494" y1="531.25" x2="1515" y2="531.25" stroke="#0000ff" stroke-width="3.5"/>
<line x1="1504.5" y1="619.25" x2="1504.5" y2="706.75" stroke="#0000ff" stroke-width="3.5"/>
<line x1="1494" y1="706.75" x2="1515" y2="706.75" stroke="#0000ff" stroke-width="3.5"/>
<polyline points="1025,784 1118.2,775.2 1145,773.8 1185,770.6 1224.5,770.8 1264.5,771.7 1304.5,769.6 1344.5,759.5 1384.5,745 1424.5,706.75 1464.5,666.75 1504.5,619.25" fill="none" stroke="#0000ff" stroke-width="8" stroke-linejoin="round"/>
</g>
<circle cx="1025" cy="784" r="11" fill="#0000ff"/>
<circle cx="1118.2" cy="775.2" r="11" fill="#0000ff"/>
<circle cx="1145" cy="773.8" r="11" fill="#0000ff"/>
<circle cx="1185" cy="770.6" r="11" fill="#0000ff"/>
<circle cx="1224.5" cy="770.8" r="11" fill="#0000ff"/>
<circle cx="1264.5" cy="771.7" r="11" fill="#0000ff"/>
<circle cx="1304.5" cy="769.6" r="11" fill="#0000ff"/>
<circle cx="1344.5" cy="759.5" r="11" fill="#0000ff"/>
<circle cx="1384.5" cy="745" r="11" fill="#0000ff"/>
<circle cx="1424.5" cy="706.75" r="11" fill="#0000ff"/>
<circle cx="1464.5" cy="666.75" r="11" fill="#0000ff"/>
<circle cx="1504.5" cy="619.25" r="11" fill="#0000ff"/>
<g clip-path="url(#ca2)">
<line x1="1344.5" y1="703" x2="1344.5" y2="686" stroke="#000" stroke-width="3.5"/>
<line x1="1332.25" y1="686" x2="1356.75" y2="686" stroke="#000" stroke-width="3.5"/>
<line x1="1344.5" y1="703" x2="1344.5" y2="720.75" stroke="#000" stroke-width="3.5"/>
<line x1="1332.25" y1="720.75" x2="1356.75" y2="720.75" stroke="#000" stroke-width="3.5"/>
<line x1="1384.5" y1="635" x2="1384.5" y2="602.5" stroke="#000" stroke-width="3.5"/>
<line x1="1372.25" y1="602.5" x2="1396.75" y2="602.5" stroke="#000" stroke-width="3.5"/>
<line x1="1384.5" y1="635" x2="1384.5" y2="668" stroke="#000" stroke-width="3.5"/>
<line x1="1372.25" y1="668" x2="1396.75" y2="668" stroke="#000" stroke-width="3.5"/>
<line x1="1424.5" y1="558" x2="1424.5" y2="502" stroke="#000" stroke-width="3.5"/>
<line x1="1412.25" y1="502" x2="1436.75" y2="502" stroke="#000" stroke-width="3.5"/>
<line x1="1424.5" y1="558" x2="1424.5" y2="613.75" stroke="#000" stroke-width="3.5"/>
<line x1="1412.25" y1="613.75" x2="1436.75" y2="613.75" stroke="#000" stroke-width="3.5"/>
<line x1="1464.5" y1="448" x2="1464.5" y2="373" stroke="#000" stroke-width="3.5"/>
<line x1="1452.25" y1="373" x2="1476.75" y2="373" stroke="#000" stroke-width="3.5"/>
<line x1="1464.5" y1="448" x2="1464.5" y2="523" stroke="#000" stroke-width="3.5"/>
<line x1="1452.25" y1="523" x2="1476.75" y2="523" stroke="#000" stroke-width="3.5"/>
<polyline points="1025,784 1118.2,771.7 1145,770.2 1185,768.3 1224.5,764.2 1264.5,760.2 1304.5,745.4 1344.5,703 1384.5,635 1424.5,558 1464.5,448" fill="none" stroke="#000" stroke-width="8" stroke-linejoin="round"/>
</g>
<path d="M1012.2 784L1025 771.5L1037.8 784L1025 796.5Z" fill="#000"/>
<path d="M1105.4 771.7L1118.2 759.2L1131 771.7L1118.2 784.2Z" fill="#000"/>
<path d="M1132.2 770.2L1145 757.7L1157.8 770.2L1145 782.7Z" fill="#000"/>
<path d="M1172.2 768.3L1185 755.8L1197.8 768.3L1185 780.8Z" fill="#000"/>
<path d="M1211.7 764.2L1224.5 751.7L1237.3 764.2L1224.5 776.7Z" fill="#000"/>
<path d="M1251.7 760.2L1264.5 747.7L1277.3 760.2L1264.5 772.7Z" fill="#000"/>
<path d="M1291.7 745.4L1304.5 732.9L1317.3 745.4L1304.5 757.9Z" fill="#000"/>
<path d="M1331.7 703L1344.5 690.5L1357.3 703L1344.5 715.5Z" fill="#000"/>
<path d="M1371.7 635L1384.5 622.5L1397.3 635L1384.5 647.5Z" fill="#000"/>
<path d="M1411.7 558L1424.5 545.5L1437.3 558L1424.5 570.5Z" fill="#000"/>
<path d="M1451.7 448L1464.5 435.5L1477.3 448L1464.5 460.5Z" fill="#000"/>
<path d="M1528.8 603.75L1540.7 604.35Q1542.5 604.35 1542.5 606.15L1542.5 633.85Q1542.5 635.65 1540.7 635.65L1528.8 636.25" fill="none" stroke="#000" stroke-width="2.6"/>
<path d="M1528.8 641.75L1540.7 642.35Q1542.5 642.35 1542.5 644.15L1542.5 725.6Q1542.5 727.4 1540.7 727.4L1528.8 728" fill="none" stroke="#000" stroke-width="2.6"/>
<path d="M1607.8 603.75L1623.7 604.35Q1625.5 604.35 1625.5 606.15L1625.5 725.6Q1625.5 727.4 1623.7 727.4L1607.8 728" fill="none" stroke="#000" stroke-width="2.6"/>
<text transform="translate(1554.5 626.25) scale(1 1.02)" font-size="32.5" font-weight="bold">n.s.</text>
<text transform="translate(1564.5 691.6) scale(1 1.02)" font-size="36" font-weight="bold" text-anchor="middle">*</text>
<text transform="translate(1647 691.6) scale(1 1.02)" font-size="36" font-weight="bold" text-anchor="middle">*</text>
<line x1="1682.4" y1="438.3" x2="1725" y2="438.3" stroke="#000" stroke-width="3.4"/>
<path d="M1693.79 438.2L1703.7 428.09L1713.61 438.2L1703.7 448.31Z" fill="#000" stroke="#000" stroke-width="4.8" stroke-linejoin="round"/>
<text transform="translate(1746.7 451.9) scale(1 1.02)" font-size="36.9">Ctr</text>
<line x1="1682.4" y1="486.3" x2="1725" y2="486.3" stroke="#008000" stroke-width="3.4"/>
<path d="M1693.79 486.2L1703.7 476.09L1713.61 486.2L1703.7 496.31Z" fill="#008000" stroke="#008000" stroke-width="4.8" stroke-linejoin="round"/>
<text transform="translate(1746.7 499.9) scale(1 1.02)" font-size="36.9">anti-PD-1</text>
<line x1="1682.4" y1="536.5" x2="1725" y2="536.5" stroke="#0000ff" stroke-width="3.4"/>
<circle cx="1703.7" cy="536.4" r="11.3" fill="#0000ff"/>
<text transform="translate(1746.7 550.1) scale(1 1.02)" font-size="36.9">PD-1Ab+IL-21</text>
<line x1="1682.4" y1="587.3" x2="1725" y2="587.3" stroke="#ff0000" stroke-width="3.4"/>
<rect x="1692.4" y="575.9" width="22.6" height="22.6" fill="#ff0000"/>
<text transform="translate(1746.7 600.9) scale(1 1.02)" font-size="36.9">PD-1Ab21</text>
<line x1="894" y1="1062.85" x2="894" y2="1422.45" stroke="#000" stroke-width="3.7"/>
<line x1="892.15" y1="1420.6" x2="1428.5" y2="1420.6" stroke="#000" stroke-width="3.7"/>
<line x1="883.8" y1="1064.85" x2="894" y2="1064.85" stroke="#000" stroke-width="4"/>
<line x1="883.8" y1="1153.79" x2="894" y2="1153.79" stroke="#000" stroke-width="4"/>
<line x1="883.8" y1="1242.72" x2="894" y2="1242.72" stroke="#000" stroke-width="4"/>
<line x1="883.8" y1="1331.66" x2="894" y2="1331.66" stroke="#000" stroke-width="4"/>
<line x1="883.8" y1="1420.6" x2="894" y2="1420.6" stroke="#000" stroke-width="4"/>
<line x1="894" y1="1420.6" x2="894" y2="1431.2" stroke="#000" stroke-width="4"/>
<line x1="982.75" y1="1420.6" x2="982.75" y2="1431.2" stroke="#000" stroke-width="4"/>
<line x1="1071.5" y1="1420.6" x2="1071.5" y2="1431.2" stroke="#000" stroke-width="4"/>
<line x1="1160.25" y1="1420.6" x2="1160.25" y2="1431.2" stroke="#000" stroke-width="4"/>
<line x1="1249" y1="1420.6" x2="1249" y2="1431.2" stroke="#000" stroke-width="4"/>
<line x1="1337.75" y1="1420.6" x2="1337.75" y2="1431.2" stroke="#000" stroke-width="4"/>
<line x1="1426.5" y1="1420.6" x2="1426.5" y2="1431.2" stroke="#000" stroke-width="4"/>
<text transform="translate(879.6 1077.45) scale(1 1.03)" font-size="23.5" font-weight="bold" text-anchor="end" letter-spacing="8.05">2000</text>
<text transform="translate(879.6 1166.39) scale(1 1.03)" font-size="23.5" font-weight="bold" text-anchor="end" letter-spacing="8.05">1500</text>
<text transform="translate(879.6 1255.32) scale(1 1.03)" font-size="23.5" font-weight="bold" text-anchor="end" letter-spacing="8.05">1000</text>
<text transform="translate(879.6 1344.26) scale(1 1.03)" font-size="23.5" font-weight="bold" text-anchor="end" letter-spacing="8.05">500</text>
<text transform="translate(879.6 1433.2) scale(1 1.03)" font-size="23.5" font-weight="bold" text-anchor="end" letter-spacing="8.05">0</text>
<text transform="translate(893.5 1471.8) scale(1 1.03)" font-size="23.5" font-weight="bold" text-anchor="middle" letter-spacing="8.05">0</text>
<text transform="translate(982.25 1471.8) scale(1 1.03)" font-size="23.5" font-weight="bold" text-anchor="middle" letter-spacing="8.05">10</text>
<text transform="translate(1071 1471.8) scale(1 1.03)" font-size="23.5" font-weight="bold" text-anchor="middle" letter-spacing="8.05">20</text>
<text transform="translate(1159.75 1471.8) scale(1 1.03)" font-size="23.5" font-weight="bold" text-anchor="middle" letter-spacing="8.05">30</text>
<text transform="translate(1248.5 1471.8) scale(1 1.03)" font-size="23.5" font-weight="bold" text-anchor="middle" letter-spacing="8.05">40</text>
<text transform="translate(1337.25 1471.8) scale(1 1.03)" font-size="23.5" font-weight="bold" text-anchor="middle" letter-spacing="8.05">50</text>
<text transform="translate(1426 1471.8) scale(1 1.03)" font-size="23.5" font-weight="bold" text-anchor="middle" letter-spacing="8.05">60</text>
<text transform="translate(1149.9 1011.25) scale(1 1.02)" font-size="36.9" font-weight="bold" text-anchor="middle">TUBO</text>
<text transform="translate(1157.6 1525) scale(1 1.02)" font-size="36.9" text-anchor="middle">Days after tumor inoculation</text>
<text transform="translate(767.55 1233.75) rotate(-90) scale(1 1.025)" font-size="36.9" text-anchor="middle">Tumor volume (mm<tspan font-size="26.57" dy="-10">3</tspan><tspan dy="10">)</tspan></text>
<g clip-path="url(#cb)">
<line x1="1080.5" y1="1307.5" x2="1080.5" y2="1288" stroke="#008000" stroke-width="3.5"/>
<line x1="1069.75" y1="1288" x2="1091.25" y2="1288" stroke="#008000" stroke-width="3.5"/>
<line x1="1080.5" y1="1307.5" x2="1080.5" y2="1327" stroke="#008000" stroke-width="3.5"/>
<line x1="1069.75" y1="1327" x2="1091.25" y2="1327" stroke="#008000" stroke-width="3.5"/>
<line x1="1107" y1="1267.5" x2="1107" y2="1237.5" stroke="#008000" stroke-width="3.5"/>
<line x1="1096.25" y1="1237.5" x2="1117.75" y2="1237.5" stroke="#008000" stroke-width="3.5"/>
<line x1="1107" y1="1267.5" x2="1107" y2="1298" stroke="#008000" stroke-width="3.5"/>
<line x1="1096.25" y1="1298" x2="1117.75" y2="1298" stroke="#008000" stroke-width="3.5"/>
<line x1="1133.75" y1="1247" x2="1133.75" y2="1207.5" stroke="#008000" stroke-width="3.5"/>
<line x1="1123" y1="1207.5" x2="1144.5" y2="1207.5" stroke="#008000" stroke-width="3.5"/>
<line x1="1133.75" y1="1247" x2="1133.75" y2="1287" stroke="#008000" stroke-width="3.5"/>
<line x1="1123" y1="1287" x2="1144.5" y2="1287" stroke="#008000" stroke-width="3.5"/>
<line x1="1160.25" y1="1222.5" x2="1160.25" y2="1177.5" stroke="#008000" stroke-width="3.5"/>
<line x1="1149.5" y1="1177.5" x2="1171" y2="1177.5" stroke="#008000" stroke-width="3.5"/>
<line x1="1160.25" y1="1222.5" x2="1160.25" y2="1268" stroke="#008000" stroke-width="3.5"/>
<line x1="1149.5" y1="1268" x2="1171" y2="1268" stroke="#008000" stroke-width="3.5"/>
<line x1="1186.75" y1="1185" x2="1186.75" y2="1131.25" stroke="#008000" stroke-width="3.5"/>
<line x1="1176" y1="1131.25" x2="1197.5" y2="1131.25" stroke="#008000" stroke-width="3.5"/>
<line x1="1186.75" y1="1185" x2="1186.75" y2="1238.75" stroke="#008000" stroke-width="3.5"/>
<line x1="1176" y1="1238.75" x2="1197.5" y2="1238.75" stroke="#008000" stroke-width="3.5"/>
<line x1="1213.75" y1="1126.25" x2="1213.75" y2="1050" stroke="#008000" stroke-width="3.5"/>
<line x1="1203" y1="1050" x2="1224.5" y2="1050" stroke="#008000" stroke-width="3.5"/>
<line x1="1213.75" y1="1126.25" x2="1213.75" y2="1192.5" stroke="#008000" stroke-width="3.5"/>
<line x1="1203" y1="1192.5" x2="1224.5" y2="1192.5" stroke="#008000" stroke-width="3.5"/>
<polyline points="894.25,1421 1000.75,1392.5 1027.25,1362 1054,1335 1080.5,1307.5 1107,1267.5 1133.75,1247 1160.25,1222.5 1186.75,1185 1213.75,1126.25" fill="none" stroke="#008000" stroke-width="8" stroke-linejoin="round"/>
</g>
<path d="M879.85 1421L894.25 1407.6L908.65 1421L894.25 1434.4Z" fill="#008000"/>
<path d="M986.35 1392.5L1000.75 1379.1L1015.15 1392.5L1000.75 1405.9Z" fill="#008000"/>
<path d="M1012.85 1362L1027.25 1348.6L1041.65 1362L1027.25 1375.4Z" fill="#008000"/>
<path d="M1039.6 1335L1054 1321.6L1068.4 1335L1054 1348.4Z" fill="#008000"/>
<path d="M1066.1 1307.5L1080.5 1294.1L1094.9 1307.5L1080.5 1320.9Z" fill="#008000"/>
<path d="M1092.6 1267.5L1107 1254.1L1121.4 1267.5L1107 1280.9Z" fill="#008000"/>
<path d="M1119.35 1247L1133.75 1233.6L1148.15 1247L1133.75 1260.4Z" fill="#008000"/>
<path d="M1145.85 1222.5L1160.25 1209.1L1174.65 1222.5L1160.25 1235.9Z" fill="#008000"/>
<path d="M1172.35 1185L1186.75 1171.6L1201.15 1185L1186.75 1198.4Z" fill="#008000"/>
<path d="M1199.35 1126.25L1213.75 1112.85L1228.15 1126.25L1213.75 1139.65Z" fill="#008000"/>
<g clip-path="url(#cb)">
<line x1="1080.5" y1="1333" x2="1080.5" y2="1320" stroke="#ff0000" stroke-width="3.5"/>
<line x1="1071.75" y1="1320" x2="1089.25" y2="1320" stroke="#ff0000" stroke-width="3.5"/>
<line x1="1080.5" y1="1333" x2="1080.5" y2="1346" stroke="#ff0000" stroke-width="3.5"/>
<line x1="1071.75" y1="1346" x2="1089.25" y2="1346" stroke="#ff0000" stroke-width="3.5"/>
<line x1="1107" y1="1344.5" x2="1107" y2="1325.5" stroke="#ff0000" stroke-width="3.5"/>
<line x1="1098.25" y1="1325.5" x2="1115.75" y2="1325.5" stroke="#ff0000" stroke-width="3.5"/>
<line x1="1107" y1="1344.5" x2="1107" y2="1360.5" stroke="#ff0000" stroke-width="3.5"/>
<line x1="1098.25" y1="1360.5" x2="1115.75" y2="1360.5" stroke="#ff0000" stroke-width="3.5"/>
<line x1="1133.75" y1="1354.5" x2="1133.75" y2="1331" stroke="#ff0000" stroke-width="3.5"/>
<line x1="1125" y1="1331" x2="1142.5" y2="1331" stroke="#ff0000" stroke-width="3.5"/>
<line x1="1133.75" y1="1354.5" x2="1133.75" y2="1376.5" stroke="#ff0000" stroke-width="3.5"/>
<line x1="1125" y1="1376.5" x2="1142.5" y2="1376.5" stroke="#ff0000" stroke-width="3.5"/>
<line x1="1160.25" y1="1348.5" x2="1160.25" y2="1318" stroke="#ff0000" stroke-width="3.5"/>
<line x1="1151.5" y1="1318" x2="1169" y2="1318" stroke="#ff0000" stroke-width="3.5"/>
<line x1="1160.25" y1="1348.5" x2="1160.25" y2="1378.5" stroke="#ff0000" stroke-width="3.5"/>
<line x1="1151.5" y1="1378.5" x2="1169" y2="1378.5" stroke="#ff0000" stroke-width="3.5"/>
<line x1="1186.75" y1="1340.75" x2="1186.75" y2="1307.5" stroke="#ff0000" stroke-width="3.5"/>
<line x1="1178" y1="1307.5" x2="1195.5" y2="1307.5" stroke="#ff0000" stroke-width="3.5"/>
<line x1="1186.75" y1="1340.75" x2="1186.75" y2="1374.25" stroke="#ff0000" stroke-width="3.5"/>
<line x1="1178" y1="1374.25" x2="1195.5" y2="1374.25" stroke="#ff0000" stroke-width="3.5"/>
<line x1="1213.75" y1="1331.25" x2="1213.75" y2="1294.25" stroke="#ff0000" stroke-width="3.5"/>
<line x1="1205" y1="1294.25" x2="1222.5" y2="1294.25" stroke="#ff0000" stroke-width="3.5"/>
<line x1="1213.75" y1="1331.25" x2="1213.75" y2="1368.75" stroke="#ff0000" stroke-width="3.5"/>
<line x1="1205" y1="1368.75" x2="1222.5" y2="1368.75" stroke="#ff0000" stroke-width="3.5"/>
<line x1="1249.25" y1="1330" x2="1249.25" y2="1291.75" stroke="#ff0000" stroke-width="3.5"/>
<line x1="1240.5" y1="1291.75" x2="1258" y2="1291.75" stroke="#ff0000" stroke-width="3.5"/>
<line x1="1249.25" y1="1330" x2="1249.25" y2="1369.25" stroke="#ff0000" stroke-width="3.5"/>
<line x1="1240.5" y1="1369.25" x2="1258" y2="1369.25" stroke="#ff0000" stroke-width="3.5"/>
<line x1="1275.75" y1="1333.25" x2="1275.75" y2="1295.75" stroke="#ff0000" stroke-width="3.5"/>
<line x1="1267" y1="1295.75" x2="1284.5" y2="1295.75" stroke="#ff0000" stroke-width="3.5"/>
<line x1="1275.75" y1="1333.25" x2="1275.75" y2="1371.25" stroke="#ff0000" stroke-width="3.5"/>
<line x1="1267" y1="1371.25" x2="1284.5" y2="1371.25" stroke="#ff0000" stroke-width="3.5"/>
<line x1="1311.25" y1="1330" x2="1311.25" y2="1290.75" stroke="#ff0000" stroke-width="3.5"/>
<line x1="1302.5" y1="1290.75" x2="1320" y2="1290.75" stroke="#ff0000" stroke-width="3.5"/>
<line x1="1311.25" y1="1330" x2="1311.25" y2="1369.25" stroke="#ff0000" stroke-width="3.5"/>
<line x1="1302.5" y1="1369.25" x2="1320" y2="1369.25" stroke="#ff0000" stroke-width="3.5"/>
<line x1="1338" y1="1322.5" x2="1338" y2="1273.75" stroke="#ff0000" stroke-width="3.5"/>
<line x1="1329.25" y1="1273.75" x2="1346.75" y2="1273.75" stroke="#ff0000" stroke-width="3.5"/>
<line x1="1338" y1="1322.5" x2="1338" y2="1371.25" stroke="#ff0000" stroke-width="3.5"/>
<line x1="1329.25" y1="1371.25" x2="1346.75" y2="1371.25" stroke="#ff0000" stroke-width="3.5"/>
<polyline points="894.25,1421 1000.75,1378.75 1027.25,1351 1054,1332.5 1080.5,1333 1107,1344.5 1133.75,1354.5 1160.25,1348.5 1186.75,1340.75 1213.75,1331.25 1249.25,1330 1275.75,1333.25 1311.25,1330 1338,1322.5" fill="none" stroke="#ff0000" stroke-width="8" stroke-linejoin="round"/>
</g>
<rect x="885.25" y="1412" width="18" height="18" fill="#ff0000"/>
<rect x="991.75" y="1369.75" width="18" height="18" fill="#ff0000"/>
<rect x="1018.25" y="1342" width="18" height="18" fill="#ff0000"/>
<rect x="1045" y="1323.5" width="18" height="18" fill="#ff0000"/>
<rect x="1071.5" y="1324" width="18" height="18" fill="#ff0000"/>
<rect x="1098" y="1335.5" width="18" height="18" fill="#ff0000"/>
<rect x="1124.75" y="1345.5" width="18" height="18" fill="#ff0000"/>
<rect x="1151.25" y="1339.5" width="18" height="18" fill="#ff0000"/>
<rect x="1177.75" y="1331.75" width="18" height="18" fill="#ff0000"/>
<rect x="1204.75" y="1322.25" width="18" height="18" fill="#ff0000"/>
<rect x="1240.25" y="1321" width="18" height="18" fill="#ff0000"/>
<rect x="1266.75" y="1324.25" width="18" height="18" fill="#ff0000"/>
<rect x="1302.25" y="1321" width="18" height="18" fill="#ff0000"/>
<rect x="1329" y="1313.5" width="18" height="18" fill="#ff0000"/>
<g clip-path="url(#cb)">
<line x1="1080.5" y1="1323" x2="1080.5" y2="1307" stroke="#0000ff" stroke-width="3.5"/>
<line x1="1070" y1="1307" x2="1091" y2="1307" stroke="#0000ff" stroke-width="3.5"/>
<line x1="1080.5" y1="1323" x2="1080.5" y2="1339.5" stroke="#0000ff" stroke-width="3.5"/>
<line x1="1070" y1="1339.5" x2="1091" y2="1339.5" stroke="#0000ff" stroke-width="3.5"/>
<line x1="1107" y1="1308" x2="1107" y2="1281" stroke="#0000ff" stroke-width="3.5"/>
<line x1="1096.5" y1="1281" x2="1117.5" y2="1281" stroke="#0000ff" stroke-width="3.5"/>
<line x1="1107" y1="1308" x2="1107" y2="1332.5" stroke="#0000ff" stroke-width="3.5"/>
<line x1="1096.5" y1="1332.5" x2="1117.5" y2="1332.5" stroke="#0000ff" stroke-width="3.5"/>
<line x1="1133.75" y1="1300.5" x2="1133.75" y2="1269" stroke="#0000ff" stroke-width="3.5"/>
<line x1="1123.25" y1="1269" x2="1144.25" y2="1269" stroke="#0000ff" stroke-width="3.5"/>
<line x1="1133.75" y1="1300.5" x2="1133.75" y2="1330" stroke="#0000ff" stroke-width="3.5"/>
<line x1="1123.25" y1="1330" x2="1144.25" y2="1330" stroke="#0000ff" stroke-width="3.5"/>
<line x1="1160.25" y1="1285.5" x2="1160.25" y2="1248.5" stroke="#0000ff" stroke-width="3.5"/>
<line x1="1149.75" y1="1248.5" x2="1170.75" y2="1248.5" stroke="#0000ff" stroke-width="3.5"/>
<line x1="1160.25" y1="1285.5" x2="1160.25" y2="1321.25" stroke="#0000ff" stroke-width="3.5"/>
<line x1="1149.75" y1="1321.25" x2="1170.75" y2="1321.25" stroke="#0000ff" stroke-width="3.5"/>
<line x1="1186.75" y1="1251.75" x2="1186.75" y2="1205.75" stroke="#0000ff" stroke-width="3.5"/>
<line x1="1176.25" y1="1205.75" x2="1197.25" y2="1205.75" stroke="#0000ff" stroke-width="3.5"/>
<line x1="1186.75" y1="1251.75" x2="1186.75" y2="1297" stroke="#0000ff" stroke-width="3.5"/>
<line x1="1176.25" y1="1297" x2="1197.25" y2="1297" stroke="#0000ff" stroke-width="3.5"/>
<line x1="1213.75" y1="1231.25" x2="1213.75" y2="1181.25" stroke="#0000ff" stroke-width="3.5"/>
<line x1="1203.25" y1="1181.25" x2="1224.25" y2="1181.25" stroke="#0000ff" stroke-width="3.5"/>
<line x1="1213.75" y1="1231.25" x2="1213.75" y2="1281.25" stroke="#0000ff" stroke-width="3.5"/>
<line x1="1203.25" y1="1281.25" x2="1224.25" y2="1281.25" stroke="#0000ff" stroke-width="3.5"/>
<line x1="1249.25" y1="1176.75" x2="1249.25" y2="1104.5" stroke="#0000ff" stroke-width="3.5"/>
<line x1="1238.75" y1="1104.5" x2="1259.75" y2="1104.5" stroke="#0000ff" stroke-width="3.5"/>
<line x1="1249.25" y1="1176.75" x2="1249.25" y2="1248.75" stroke="#0000ff" stroke-width="3.5"/>
<line x1="1238.75" y1="1248.75" x2="1259.75" y2="1248.75" stroke="#0000ff" stroke-width="3.5"/>
<line x1="1275.75" y1="1149.25" x2="1275.75" y2="1050" stroke="#0000ff" stroke-width="3.5"/>
<line x1="1265.25" y1="1050" x2="1286.25" y2="1050" stroke="#0000ff" stroke-width="3.5"/>
<line x1="1275.75" y1="1149.25" x2="1275.75" y2="1235" stroke="#0000ff" stroke-width="3.5"/>
<line x1="1265.25" y1="1235" x2="1286.25" y2="1235" stroke="#0000ff" stroke-width="3.5"/>
<polyline points="894.25,1421 1000.75,1391 1027.25,1366 1054,1342.5 1080.5,1323 1107,1308 1133.75,1300.5 1160.25,1285.5 1186.75,1251.75 1213.75,1231.25 1249.25,1176.75 1275.75,1149.25" fill="none" stroke="#0000ff" stroke-width="8" stroke-linejoin="round"/>
</g>
<circle cx="894.25" cy="1421" r="10.75" fill="#0000ff"/>
<circle cx="1000.75" cy="1391" r="10.75" fill="#0000ff"/>
<circle cx="1027.25" cy="1366" r="10.75" fill="#0000ff"/>
<circle cx="1054" cy="1342.5" r="10.75" fill="#0000ff"/>
<circle cx="1080.5" cy="1323" r="10.75" fill="#0000ff"/>
<circle cx="1107" cy="1308" r="10.75" fill="#0000ff"/>
<circle cx="1133.75" cy="1300.5" r="10.75" fill="#0000ff"/>
<circle cx="1160.25" cy="1285.5" r="10.75" fill="#0000ff"/>
<circle cx="1186.75" cy="1251.75" r="10.75" fill="#0000ff"/>
<circle cx="1213.75" cy="1231.25" r="10.75" fill="#0000ff"/>
<circle cx="1249.25" cy="1176.75" r="10.75" fill="#0000ff"/>
<circle cx="1275.75" cy="1149.25" r="10.75" fill="#0000ff"/>
<g clip-path="url(#cb)">
<line x1="1054" y1="1308.75" x2="1054" y2="1295" stroke="#000" stroke-width="3.5"/>
<line x1="1041.75" y1="1295" x2="1066.25" y2="1295" stroke="#000" stroke-width="3.5"/>
<line x1="1054" y1="1308.75" x2="1054" y2="1322" stroke="#000" stroke-width="3.5"/>
<line x1="1041.75" y1="1322" x2="1066.25" y2="1322" stroke="#000" stroke-width="3.5"/>
<line x1="1080.5" y1="1258" x2="1080.5" y2="1238.75" stroke="#000" stroke-width="3.5"/>
<line x1="1068.25" y1="1238.75" x2="1092.75" y2="1238.75" stroke="#000" stroke-width="3.5"/>
<line x1="1080.5" y1="1258" x2="1080.5" y2="1277.5" stroke="#000" stroke-width="3.5"/>
<line x1="1068.25" y1="1277.5" x2="1092.75" y2="1277.5" stroke="#000" stroke-width="3.5"/>
<line x1="1107" y1="1186.25" x2="1107" y2="1155" stroke="#000" stroke-width="3.5"/>
<line x1="1094.75" y1="1155" x2="1119.25" y2="1155" stroke="#000" stroke-width="3.5"/>
<line x1="1107" y1="1186.25" x2="1107" y2="1217.5" stroke="#000" stroke-width="3.5"/>
<line x1="1094.75" y1="1217.5" x2="1119.25" y2="1217.5" stroke="#000" stroke-width="3.5"/>
<line x1="1133.75" y1="1124.25" x2="1133.75" y2="1080" stroke="#000" stroke-width="3.5"/>
<line x1="1121.5" y1="1080" x2="1146" y2="1080" stroke="#000" stroke-width="3.5"/>
<line x1="1133.75" y1="1124.25" x2="1133.75" y2="1167.5" stroke="#000" stroke-width="3.5"/>
<line x1="1121.5" y1="1167.5" x2="1146" y2="1167.5" stroke="#000" stroke-width="3.5"/>
<polyline points="894.25,1421 1000.75,1388 1027.25,1357 1054,1308.75 1080.5,1258 1107,1186.25 1133.75,1124.25 1160.25,1019.6" fill="none" stroke="#000" stroke-width="8" stroke-linejoin="round"/>
</g>
<path d="M881.45 1421L894.25 1408.5L907.05 1421L894.25 1433.5Z" fill="#000"/>
<path d="M987.95 1388L1000.75 1375.5L1013.55 1388L1000.75 1400.5Z" fill="#000"/>
<path d="M1014.45 1357L1027.25 1344.5L1040.05 1357L1027.25 1369.5Z" fill="#000"/>
<path d="M1041.2 1308.75L1054 1296.25L1066.8 1308.75L1054 1321.25Z" fill="#000"/>
<path d="M1067.7 1258L1080.5 1245.5L1093.3 1258L1080.5 1270.5Z" fill="#000"/>
<path d="M1094.2 1186.25L1107 1173.75L1119.8 1186.25L1107 1198.75Z" fill="#000"/>
<path d="M1120.95 1124.25L1133.75 1111.75L1146.55 1124.25L1133.75 1136.75Z" fill="#000"/>
<path d="M1366.05 1100.75L1379.45 1101.35Q1381.25 1101.35 1381.25 1103.15L1381.25 1132.6Q1381.25 1134.4 1379.45 1134.4L1366.05 1135" fill="none" stroke="#000" stroke-width="2.6"/>
<path d="M1366.05 1140.5L1379.45 1141.1Q1381.25 1141.1 1381.25 1142.9L1381.25 1310.1Q1381.25 1311.9 1379.45 1311.9L1366.05 1312.5" fill="none" stroke="#000" stroke-width="2.6"/>
<path d="M1420.3 1100.75L1435.2 1101.35Q1437 1101.35 1437 1103.15L1437 1310.1Q1437 1311.9 1435.2 1311.9L1420.3 1312.5" fill="none" stroke="#000" stroke-width="2.6"/>
<text transform="translate(1400.5 1137.2) scale(1 1.02)" font-size="36" font-weight="bold" text-anchor="middle">*</text>
<text transform="translate(1400.5 1248.2) scale(1 1.02)" font-size="36" font-weight="bold" text-anchor="middle">*</text>
<text transform="translate(1480.5 1224) scale(1 1.02)" font-size="36" font-weight="bold" text-anchor="middle">****</text>
<line x1="1535.5" y1="1079.6" x2="1578.1" y2="1079.6" stroke="#000" stroke-width="3.4"/>
<path d="M1546.89 1079.5L1556.8 1069.39L1566.71 1079.5L1556.8 1089.61Z" fill="#000" stroke="#000" stroke-width="4.8" stroke-linejoin="round"/>
<text transform="translate(1599.7 1093.2) scale(1 1.02)" font-size="36.9">Ctr</text>
<line x1="1535.5" y1="1127.3" x2="1578.1" y2="1127.3" stroke="#008000" stroke-width="3.4"/>
<path d="M1546.89 1127.2L1556.8 1117.09L1566.71 1127.2L1556.8 1137.31Z" fill="#008000" stroke="#008000" stroke-width="4.8" stroke-linejoin="round"/>
<text transform="translate(1599.7 1140.9) scale(1 1.02)" font-size="36.9">anti-neu</text>
<line x1="1535.5" y1="1177" x2="1578.1" y2="1177" stroke="#0000ff" stroke-width="3.4"/>
<circle cx="1556.8" cy="1176.9" r="11.3" fill="#0000ff"/>
<text transform="translate(1599.7 1190.6) scale(1 1.02)" font-size="36.9">anti-neu+PD-1Ab+IL-21</text>
<line x1="1535.5" y1="1228.3" x2="1578.1" y2="1228.3" stroke="#ff0000" stroke-width="3.4"/>
<rect x="1545.5" y="1216.9" width="22.6" height="22.6" fill="#ff0000"/>
<text transform="translate(1599.7 1241.9) scale(1 1.02)" font-size="36.9">anti-neu+PD-1Ab21</text>
<line x1="894.25" y1="1691.5" x2="894.25" y2="2051.1" stroke="#000" stroke-width="3.7"/>
<line x1="892.4" y1="2049.25" x2="1428.75" y2="2049.25" stroke="#000" stroke-width="3.7"/>
<line x1="884.05" y1="1693.5" x2="894.25" y2="1693.5" stroke="#000" stroke-width="4"/>
<line x1="884.05" y1="1782.44" x2="894.25" y2="1782.44" stroke="#000" stroke-width="4"/>
<line x1="884.05" y1="1871.38" x2="894.25" y2="1871.38" stroke="#000" stroke-width="4"/>
<line x1="884.05" y1="1960.31" x2="894.25" y2="1960.31" stroke="#000" stroke-width="4"/>
<line x1="884.05" y1="2049.25" x2="894.25" y2="2049.25" stroke="#000" stroke-width="4"/>
<line x1="894.25" y1="2049.25" x2="894.25" y2="2059.85" stroke="#000" stroke-width="4"/>
<line x1="1000.75" y1="2049.25" x2="1000.75" y2="2059.85" stroke="#000" stroke-width="4"/>
<line x1="1107.25" y1="2049.25" x2="1107.25" y2="2059.85" stroke="#000" stroke-width="4"/>
<line x1="1213.75" y1="2049.25" x2="1213.75" y2="2059.85" stroke="#000" stroke-width="4"/>
<line x1="1320.25" y1="2049.25" x2="1320.25" y2="2059.85" stroke="#000" stroke-width="4"/>
<line x1="1426.75" y1="2049.25" x2="1426.75" y2="2059.85" stroke="#000" stroke-width="4"/>
<text transform="translate(879.85 1706.1) scale(1 1.03)" font-size="23.5" font-weight="bold" text-anchor="end" letter-spacing="8.05">2000</text>
<text transform="translate(879.85 1795.04) scale(1 1.03)" font-size="23.5" font-weight="bold" text-anchor="end" letter-spacing="8.05">1500</text>
<text transform="translate(879.85 1883.97) scale(1 1.03)" font-size="23.5" font-weight="bold" text-anchor="end" letter-spacing="8.05">1000</text>
<text transform="translate(879.85 1972.91) scale(1 1.03)" font-size="23.5" font-weight="bold" text-anchor="end" letter-spacing="8.05">500</text>
<text transform="translate(879.85 2061.85) scale(1 1.03)" font-size="23.5" font-weight="bold" text-anchor="end" letter-spacing="8.05">0</text>
<text transform="translate(893.75 2100.45) scale(1 1.03)" font-size="23.5" font-weight="bold" text-anchor="middle" letter-spacing="8.05">0</text>
<text transform="translate(1000.25 2100.45) scale(1 1.03)" font-size="23.5" font-weight="bold" text-anchor="middle" letter-spacing="8.05">5</text>
<text transform="translate(1106.75 2100.45) scale(1 1.03)" font-size="23.5" font-weight="bold" text-anchor="middle" letter-spacing="8.05">10</text>
<text transform="translate(1213.25 2100.45) scale(1 1.03)" font-size="23.5" font-weight="bold" text-anchor="middle" letter-spacing="8.05">15</text>
<text transform="translate(1319.75 2100.45) scale(1 1.03)" font-size="23.5" font-weight="bold" text-anchor="middle" letter-spacing="8.05">20</text>
<text transform="translate(1426.25 2100.45) scale(1 1.03)" font-size="23.5" font-weight="bold" text-anchor="middle" letter-spacing="8.05">25</text>
<text transform="translate(1148.7 1638.75) scale(1 1.02)" font-size="36.9" font-weight="bold" text-anchor="middle">B16-OVA</text>
<text transform="translate(1157.5 2148.2) scale(1 1.02)" font-size="36.9" text-anchor="middle">Days after tumor inoculation</text>
<text transform="translate(767.55 1861) rotate(-90) scale(1 1.025)" font-size="36.9" text-anchor="middle">Tumor volume (mm<tspan font-size="26.57" dy="-10">3</tspan><tspan dy="10">)</tspan></text>
<g clip-path="url(#cc)">
<line x1="1171" y1="1998.6" x2="1171" y2="1992.75" stroke="#000" stroke-width="3.5"/>
<line x1="1162.25" y1="1992.75" x2="1179.75" y2="1992.75" stroke="#000" stroke-width="3.5"/>
<line x1="1171" y1="1998.6" x2="1171" y2="2006" stroke="#000" stroke-width="3.5"/>
<line x1="1162.25" y1="2006" x2="1179.75" y2="2006" stroke="#000" stroke-width="3.5"/>
<line x1="1213.75" y1="1985.25" x2="1213.75" y2="1971.5" stroke="#000" stroke-width="3.5"/>
<line x1="1205" y1="1971.5" x2="1222.5" y2="1971.5" stroke="#000" stroke-width="3.5"/>
<line x1="1213.75" y1="1985.25" x2="1213.75" y2="1999" stroke="#000" stroke-width="3.5"/>
<line x1="1205" y1="1999" x2="1222.5" y2="1999" stroke="#000" stroke-width="3.5"/>
<line x1="1256.25" y1="1942.75" x2="1256.25" y2="1922.75" stroke="#000" stroke-width="3.5"/>
<line x1="1247.5" y1="1922.75" x2="1265" y2="1922.75" stroke="#000" stroke-width="3.5"/>
<line x1="1256.25" y1="1942.75" x2="1256.25" y2="1962.75" stroke="#000" stroke-width="3.5"/>
<line x1="1247.5" y1="1962.75" x2="1265" y2="1962.75" stroke="#000" stroke-width="3.5"/>
<line x1="1298.75" y1="1887.75" x2="1298.75" y2="1860.25" stroke="#000" stroke-width="3.5"/>
<line x1="1290" y1="1860.25" x2="1307.5" y2="1860.25" stroke="#000" stroke-width="3.5"/>
<line x1="1298.75" y1="1887.75" x2="1298.75" y2="1915" stroke="#000" stroke-width="3.5"/>
<line x1="1290" y1="1915" x2="1307.5" y2="1915" stroke="#000" stroke-width="3.5"/>
<line x1="1341.25" y1="1817.75" x2="1341.25" y2="1774" stroke="#000" stroke-width="3.5"/>
<line x1="1332.5" y1="1774" x2="1350" y2="1774" stroke="#000" stroke-width="3.5"/>
<line x1="1341.25" y1="1817.75" x2="1341.25" y2="1861" stroke="#000" stroke-width="3.5"/>
<line x1="1332.5" y1="1861" x2="1350" y2="1861" stroke="#000" stroke-width="3.5"/>
<polyline points="894.25,2049 1021.75,2044.5 1085.5,2030 1128.25,2015.5 1171,1998.6 1213.75,1985.25 1256.25,1942.75 1298.75,1887.75 1341.25,1817.75" fill="none" stroke="#000" stroke-width="8" stroke-linejoin="round"/>
</g>
<circle cx="894.25" cy="2049" r="9.25" fill="#000"/>
<circle cx="1021.75" cy="2044.5" r="9.25" fill="#000"/>
<circle cx="1085.5" cy="2030" r="9.25" fill="#000"/>
<circle cx="1128.25" cy="2015.5" r="9.25" fill="#000"/>
<circle cx="1171" cy="1998.6" r="9.25" fill="#000"/>
<circle cx="1213.75" cy="1985.25" r="9.25" fill="#000"/>
<circle cx="1256.25" cy="1942.75" r="9.25" fill="#000"/>
<circle cx="1298.75" cy="1887.75" r="9.25" fill="#000"/>
<circle cx="1341.25" cy="1817.75" r="9.25" fill="#000"/>
<g clip-path="url(#cc)">
<line x1="1256.25" y1="1972.75" x2="1256.25" y2="1962" stroke="#008000" stroke-width="3.5"/>
<line x1="1244.25" y1="1962" x2="1268.25" y2="1962" stroke="#008000" stroke-width="3.5"/>
<line x1="1256.25" y1="1972.75" x2="1256.25" y2="1987.25" stroke="#008000" stroke-width="3.5"/>
<line x1="1244.25" y1="1987.25" x2="1268.25" y2="1987.25" stroke="#008000" stroke-width="3.5"/>
<line x1="1298.75" y1="1919" x2="1298.75" y2="1900.25" stroke="#008000" stroke-width="3.5"/>
<line x1="1286.75" y1="1900.25" x2="1310.75" y2="1900.25" stroke="#008000" stroke-width="3.5"/>
<line x1="1298.75" y1="1919" x2="1298.75" y2="1939" stroke="#008000" stroke-width="3.5"/>
<line x1="1286.75" y1="1939" x2="1310.75" y2="1939" stroke="#008000" stroke-width="3.5"/>
<line x1="1341.25" y1="1837.75" x2="1341.25" y2="1807" stroke="#008000" stroke-width="3.5"/>
<line x1="1329.25" y1="1807" x2="1353.25" y2="1807" stroke="#008000" stroke-width="3.5"/>
<line x1="1341.25" y1="1837.75" x2="1341.25" y2="1869.5" stroke="#008000" stroke-width="3.5"/>
<line x1="1329.25" y1="1869.5" x2="1353.25" y2="1869.5" stroke="#008000" stroke-width="3.5"/>
<polyline points="894.25,2049 1021.75,2043.8 1085.5,2031 1128.25,2016.5 1171,2016 1213.75,2005.5 1256.25,1972.75 1298.75,1919 1341.25,1837.75" fill="none" stroke="#008000" stroke-width="8" stroke-linejoin="round"/>
</g>
<path d="M881.45 2049L894.25 2036.5L907.05 2049L894.25 2061.5Z" fill="#008000"/>
<path d="M1008.95 2043.8L1021.75 2031.3L1034.55 2043.8L1021.75 2056.3Z" fill="#008000"/>
<path d="M1072.7 2031L1085.5 2018.5L1098.3 2031L1085.5 2043.5Z" fill="#008000"/>
<path d="M1115.45 2016.5L1128.25 2004L1141.05 2016.5L1128.25 2029Z" fill="#008000"/>
<path d="M1158.2 2016L1171 2003.5L1183.8 2016L1171 2028.5Z" fill="#008000"/>
<path d="M1200.95 2005.5L1213.75 1993L1226.55 2005.5L1213.75 2018Z" fill="#008000"/>
<path d="M1243.45 1972.75L1256.25 1960.25L1269.05 1972.75L1256.25 1985.25Z" fill="#008000"/>
<path d="M1285.95 1919L1298.75 1906.5L1311.55 1919L1298.75 1931.5Z" fill="#008000"/>
<path d="M1328.45 1837.75L1341.25 1825.25L1354.05 1837.75L1341.25 1850.25Z" fill="#008000"/>
<g clip-path="url(#cc)">
<line x1="1341.25" y1="1860.25" x2="1341.25" y2="1848.5" stroke="#0000ff" stroke-width="3.5"/>
<line x1="1332.5" y1="1848.5" x2="1350" y2="1848.5" stroke="#0000ff" stroke-width="3.5"/>
<line x1="1341.25" y1="1860.25" x2="1341.25" y2="1872.25" stroke="#0000ff" stroke-width="3.5"/>
<line x1="1332.5" y1="1872.25" x2="1350" y2="1872.25" stroke="#0000ff" stroke-width="3.5"/>
<polyline points="894.25,2049 1021.75,2043.2 1085.5,2029.5 1128.25,2018 1171,2014 1213.75,2012.4 1256.25,1987.75 1298.75,1942 1341.25,1860.25" fill="none" stroke="#0000ff" stroke-width="8" stroke-linejoin="round"/>
</g>
<circle cx="894.25" cy="2049" r="9.25" fill="#0000ff"/>
<circle cx="1021.75" cy="2043.2" r="9.25" fill="#0000ff"/>
<circle cx="1085.5" cy="2029.5" r="9.25" fill="#0000ff"/>
<circle cx="1128.25" cy="2018" r="9.25" fill="#0000ff"/>
<circle cx="1171" cy="2014" r="9.25" fill="#0000ff"/>
<circle cx="1213.75" cy="2012.4" r="9.25" fill="#0000ff"/>
<circle cx="1256.25" cy="1987.75" r="9.25" fill="#0000ff"/>
<circle cx="1298.75" cy="1942" r="9.25" fill="#0000ff"/>
<circle cx="1341.25" cy="1860.25" r="9.25" fill="#0000ff"/>
<g clip-path="url(#cc)">
<line x1="1298.75" y1="1992.3" x2="1298.75" y2="1982.3" stroke="#ff0000" stroke-width="3.5"/>
<line x1="1290" y1="1982.3" x2="1307.5" y2="1982.3" stroke="#ff0000" stroke-width="3.5"/>
<line x1="1298.75" y1="1992.3" x2="1298.75" y2="2002.7" stroke="#ff0000" stroke-width="3.5"/>
<line x1="1290" y1="2002.7" x2="1307.5" y2="2002.7" stroke="#ff0000" stroke-width="3.5"/>
<line x1="1341.25" y1="1952.75" x2="1341.25" y2="1939" stroke="#ff0000" stroke-width="3.5"/>
<line x1="1332.5" y1="1939" x2="1350" y2="1939" stroke="#ff0000" stroke-width="3.5"/>
<line x1="1341.25" y1="1952.75" x2="1341.25" y2="1966.5" stroke="#ff0000" stroke-width="3.5"/>
<line x1="1332.5" y1="1966.5" x2="1350" y2="1966.5" stroke="#ff0000" stroke-width="3.5"/>
<polyline points="894.25,2049 1021.75,2044 1085.5,2034 1128.25,2023 1171,2029 1213.75,2024.6 1256.25,2015.75 1298.75,1992.3 1341.25,1952.75" fill="none" stroke="#ff0000" stroke-width="8" stroke-linejoin="round"/>
</g>
<rect x="885.25" y="2040" width="18" height="18" fill="#ff0000"/>
<rect x="1012.75" y="2035" width="18" height="18" fill="#ff0000"/>
<rect x="1076.5" y="2025" width="18" height="18" fill="#ff0000"/>
<rect x="1119.25" y="2014" width="18" height="18" fill="#ff0000"/>
<rect x="1162" y="2020" width="18" height="18" fill="#ff0000"/>
<rect x="1204.75" y="2015.6" width="18" height="18" fill="#ff0000"/>
<rect x="1247.25" y="2006.75" width="18" height="18" fill="#ff0000"/>
<rect x="1289.75" y="1983.3" width="18" height="18" fill="#ff0000"/>
<rect x="1332.25" y="1943.75" width="18" height="18" fill="#ff0000"/>
<g clip-path="url(#cc)">
<line x1="1128.25" y1="2019" x2="1128.25" y2="2003.1" stroke="#000" stroke-width="3.5"/>
<line x1="1116" y1="2003.1" x2="1140.5" y2="2003.1" stroke="#000" stroke-width="3.5"/>
<line x1="1128.25" y1="2019" x2="1128.25" y2="2033" stroke="#000" stroke-width="3.5"/>
<line x1="1116" y1="2033" x2="1140.5" y2="2033" stroke="#000" stroke-width="3.5"/>
<line x1="1171" y1="1948.3" x2="1171" y2="1904" stroke="#000" stroke-width="3.5"/>
<line x1="1158.75" y1="1904" x2="1183.25" y2="1904" stroke="#000" stroke-width="3.5"/>
<line x1="1171" y1="1948.3" x2="1171" y2="1992.75" stroke="#000" stroke-width="3.5"/>
<line x1="1158.75" y1="1992.75" x2="1183.25" y2="1992.75" stroke="#000" stroke-width="3.5"/>
<line x1="1213.75" y1="1804.75" x2="1213.75" y2="1721.5" stroke="#000" stroke-width="3.5"/>
<line x1="1201.5" y1="1721.5" x2="1226" y2="1721.5" stroke="#000" stroke-width="3.5"/>
<line x1="1213.75" y1="1804.75" x2="1213.75" y2="1887" stroke="#000" stroke-width="3.5"/>
<line x1="1201.5" y1="1887" x2="1226" y2="1887" stroke="#000" stroke-width="3.5"/>
<line x1="1256.25" y1="1719" x2="1256.25" y2="1698.25" stroke="#000" stroke-width="3.5"/>
<line x1="1244" y1="1698.25" x2="1268.5" y2="1698.25" stroke="#000" stroke-width="3.5"/>
<line x1="1256.25" y1="1719" x2="1256.25" y2="1739.5" stroke="#000" stroke-width="3.5"/>
<line x1="1244" y1="1739.5" x2="1268.5" y2="1739.5" stroke="#000" stroke-width="3.5"/>
<polyline points="894.25,2049 1021.75,2046.9 1085.5,2038.4 1128.25,2019 1171,1948.3 1213.75,1804.75 1256.25,1719 1298.75,1435.7" fill="none" stroke="#000" stroke-width="8" stroke-linejoin="round"/>
</g>
<path d="M881.45 2049L894.25 2036.5L907.05 2049L894.25 2061.5Z" fill="#000"/>
<path d="M1008.95 2046.9L1021.75 2034.4L1034.55 2046.9L1021.75 2059.4Z" fill="#000"/>
<path d="M1072.7 2038.4L1085.5 2025.9L1098.3 2038.4L1085.5 2050.9Z" fill="#000"/>
<path d="M1115.45 2019L1128.25 2006.5L1141.05 2019L1128.25 2031.5Z" fill="#000"/>
<path d="M1158.2 1948.3L1171 1935.8L1183.8 1948.3L1171 1960.8Z" fill="#000"/>
<path d="M1200.95 1804.75L1213.75 1792.25L1226.55 1804.75L1213.75 1817.25Z" fill="#000"/>
<path d="M1243.45 1719L1256.25 1706.5L1269.05 1719L1256.25 1731.5Z" fill="#000"/>
<path d="M1366.8 1830.25L1380.2 1830.85Q1382 1830.85 1382 1832.65L1382 1860.35Q1382 1862.15 1380.2 1862.15L1366.8 1862.75" fill="none" stroke="#000" stroke-width="2.6"/>
<path d="M1366.8 1868.25L1380.2 1868.85Q1382 1868.85 1382 1870.65L1382 1952.9Q1382 1954.7 1380.2 1954.7L1366.8 1955.3" fill="none" stroke="#000" stroke-width="2.6"/>
<path d="M1438.55 1827.25L1453.95 1827.85Q1455.75 1827.85 1455.75 1829.65L1455.75 1949.9Q1455.75 1951.7 1453.95 1951.7L1438.55 1952.3" fill="none" stroke="#000" stroke-width="2.6"/>
<text transform="translate(1389.5 1854.6) scale(1 1.02)" font-size="32.5" font-weight="bold">n.s.</text>
<text transform="translate(1410 1917.7) scale(1 1.02)" font-size="36" font-weight="bold" text-anchor="middle">**</text>
<text transform="translate(1493.75 1915.2) scale(1 1.02)" font-size="36" font-weight="bold" text-anchor="middle">****</text>
<line x1="1535.5" y1="1686.4" x2="1578.1" y2="1686.4" stroke="#000" stroke-width="3.4"/>
<path d="M1546.89 1686.3L1556.8 1676.19L1566.71 1686.3L1556.8 1696.41Z" fill="#000" stroke="#000" stroke-width="4.8" stroke-linejoin="round"/>
<text transform="translate(1599.7 1700) scale(1 1.02)" font-size="36.9">Ctr</text>
<line x1="1535.5" y1="1734.9" x2="1578.1" y2="1734.9" stroke="#0000ff" stroke-width="3.4"/>
<circle cx="1556.8" cy="1734.8" r="11.3" fill="#000"/>
<text transform="translate(1599.7 1748.5) scale(1 1.02)" font-size="36.9">Vac</text>
<line x1="1535.5" y1="1784.4" x2="1578.1" y2="1784.4" stroke="#008000" stroke-width="3.4"/>
<path d="M1546.89 1784.3L1556.8 1774.19L1566.71 1784.3L1556.8 1794.41Z" fill="#008000" stroke="#008000" stroke-width="4.8" stroke-linejoin="round"/>
<text transform="translate(1599.7 1798) scale(1 1.02)" font-size="36.9">Vac+anti-PD-1</text>
<line x1="1535.5" y1="1836.3" x2="1578.1" y2="1836.3" stroke="#0000ff" stroke-width="3.4"/>
<circle cx="1556.8" cy="1836.2" r="11.3" fill="#0000ff"/>
<text transform="translate(1599.7 1849.9) scale(1 1.02)" font-size="36.9">anti-neu+PD-1Ab+IL-21</text>
<line x1="1535.5" y1="1887.3" x2="1578.1" y2="1887.3" stroke="#ff0000" stroke-width="3.4"/>
<rect x="1545.5" y="1875.9" width="22.6" height="22.6" fill="#ff0000"/>
<text transform="translate(1599.7 1900.9) scale(1 1.02)" font-size="36.9">anti-neu+PD-1Ab21</text>
</svg>
</body>
</html>
